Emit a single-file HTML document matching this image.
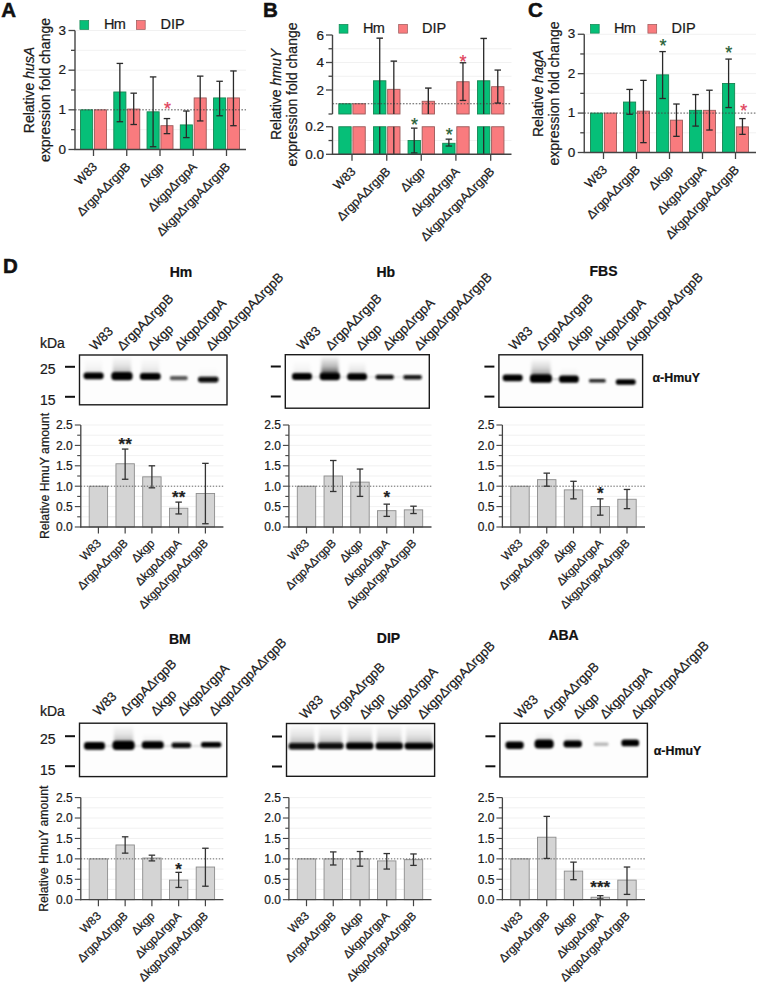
<!DOCTYPE html>
<html><head><meta charset="utf-8"><style>
html,body{margin:0;padding:0;background:#fff;width:760px;height:986px;overflow:hidden}
svg{display:block;font-family:"Liberation Sans", sans-serif}
text{stroke:#1a1a1a;stroke-width:0.22px}
</style></head><body>
<svg width="760" height="986" viewBox="0 0 760 986" xmlns="http://www.w3.org/2000/svg">
<defs>
<filter id="b1" x="-30%" y="-100%" width="160%" height="300%"><feGaussianBlur stdDeviation="0.8"/></filter>
<filter id="bl2" x="-30%" y="-30%" width="160%" height="160%"><feGaussianBlur stdDeviation="1.6"/></filter>
<linearGradient id="g6" x1="0" y1="0" x2="0" y2="1"><stop offset="0" stop-color="#000" stop-opacity="0"/><stop offset="0.55" stop-color="#000" stop-opacity="0.021"/><stop offset="1" stop-color="#000" stop-opacity="0.060"/></linearGradient>
<linearGradient id="g10" x1="0" y1="0" x2="0" y2="1"><stop offset="0" stop-color="#000" stop-opacity="0"/><stop offset="0.55" stop-color="#000" stop-opacity="0.035"/><stop offset="1" stop-color="#000" stop-opacity="0.100"/></linearGradient>
<linearGradient id="g15" x1="0" y1="0" x2="0" y2="1"><stop offset="0" stop-color="#000" stop-opacity="0"/><stop offset="0.55" stop-color="#000" stop-opacity="0.052"/><stop offset="1" stop-color="#000" stop-opacity="0.150"/></linearGradient>
<linearGradient id="g20" x1="0" y1="0" x2="0" y2="1"><stop offset="0" stop-color="#000" stop-opacity="0"/><stop offset="0.55" stop-color="#000" stop-opacity="0.070"/><stop offset="1" stop-color="#000" stop-opacity="0.200"/></linearGradient>
<linearGradient id="g30" x1="0" y1="0" x2="0" y2="1"><stop offset="0" stop-color="#000" stop-opacity="0"/><stop offset="0.55" stop-color="#000" stop-opacity="0.105"/><stop offset="1" stop-color="#000" stop-opacity="0.300"/></linearGradient>
<linearGradient id="g45" x1="0" y1="0" x2="0" y2="1"><stop offset="0" stop-color="#000" stop-opacity="0"/><stop offset="0.55" stop-color="#000" stop-opacity="0.158"/><stop offset="1" stop-color="#000" stop-opacity="0.450"/></linearGradient>
<linearGradient id="g60" x1="0" y1="0" x2="0" y2="1"><stop offset="0" stop-color="#000" stop-opacity="0"/><stop offset="0.55" stop-color="#000" stop-opacity="0.210"/><stop offset="1" stop-color="#000" stop-opacity="0.600"/></linearGradient>
<linearGradient id="g75" x1="0" y1="0" x2="0" y2="1"><stop offset="0" stop-color="#000" stop-opacity="0"/><stop offset="0.55" stop-color="#000" stop-opacity="0.262"/><stop offset="1" stop-color="#000" stop-opacity="0.750"/></linearGradient>
<linearGradient id="sm1" x1="0" y1="0" x2="0" y2="1"><stop offset="0" stop-color="#f4f4f4"/><stop offset="0.6" stop-color="#d6d6d6"/><stop offset="1" stop-color="#8a8a8a"/></linearGradient>
<linearGradient id="sm2" x1="0" y1="0" x2="0" y2="1"><stop offset="0" stop-color="#fafafa"/><stop offset="0.7" stop-color="#eeeeee"/><stop offset="1" stop-color="#c8c8c8"/></linearGradient>
<linearGradient id="sm3" x1="0" y1="0" x2="0" y2="1"><stop offset="0" stop-color="#f0f0f0"/><stop offset="0.6" stop-color="#e4e4e4"/><stop offset="1" stop-color="#bdbdbd"/></linearGradient>
</defs>
<rect width="760" height="986" fill="#fff"/>
<line x1="76" y1="129.67" x2="246" y2="129.67" stroke="#eeeeee" stroke-width="0.8"/>
<line x1="76" y1="90" x2="246" y2="90" stroke="#eeeeee" stroke-width="0.8"/>
<line x1="76" y1="70.17" x2="246" y2="70.17" stroke="#eeeeee" stroke-width="0.8"/>
<line x1="76" y1="50.33" x2="246" y2="50.33" stroke="#eeeeee" stroke-width="0.8"/>
<line x1="76" y1="30.5" x2="246" y2="30.5" stroke="#eeeeee" stroke-width="0.8"/>
<rect x="80.55" y="109.83" width="12.1" height="39.67" fill="#06bf78" stroke="#168652" stroke-width="0.9"/>
<rect x="94.4" y="109.83" width="12.1" height="39.67" fill="#f97b7e" stroke="#9a5a5a" stroke-width="0.9"/>
<rect x="113.8" y="91.98" width="12.1" height="57.52" fill="#06bf78" stroke="#168652" stroke-width="0.9"/>
<rect x="127.65" y="109.04" width="12.1" height="40.46" fill="#f97b7e" stroke="#9a5a5a" stroke-width="0.9"/>
<rect x="147.05" y="111.82" width="12.1" height="37.68" fill="#06bf78" stroke="#168652" stroke-width="0.9"/>
<rect x="160.9" y="125.7" width="12.1" height="23.8" fill="#f97b7e" stroke="#9a5a5a" stroke-width="0.9"/>
<rect x="180.3" y="124.91" width="12.1" height="24.59" fill="#06bf78" stroke="#168652" stroke-width="0.9"/>
<rect x="194.15" y="97.93" width="12.1" height="51.57" fill="#f97b7e" stroke="#9a5a5a" stroke-width="0.9"/>
<rect x="213.55" y="97.93" width="12.1" height="51.57" fill="#06bf78" stroke="#168652" stroke-width="0.9"/>
<rect x="227.4" y="97.93" width="12.1" height="51.57" fill="#f97b7e" stroke="#9a5a5a" stroke-width="0.9"/>
<line x1="75" y1="109.83" x2="246" y2="109.83" stroke="#444" stroke-width="0.9" stroke-dasharray="1.6 1.6"/>
<line x1="119.85" y1="63.42" x2="119.85" y2="121.73" stroke="#2a2a2a" stroke-width="1.3"/>
<line x1="116.6" y1="63.42" x2="123.1" y2="63.42" stroke="#2a2a2a" stroke-width="1.3"/>
<line x1="116.6" y1="121.73" x2="123.1" y2="121.73" stroke="#2a2a2a" stroke-width="1.3"/>
<line x1="133.7" y1="93.17" x2="133.7" y2="124.51" stroke="#2a2a2a" stroke-width="1.3"/>
<line x1="130.45" y1="93.17" x2="136.95" y2="93.17" stroke="#2a2a2a" stroke-width="1.3"/>
<line x1="130.45" y1="124.51" x2="136.95" y2="124.51" stroke="#2a2a2a" stroke-width="1.3"/>
<line x1="153.1" y1="76.91" x2="153.1" y2="146.72" stroke="#2a2a2a" stroke-width="1.3"/>
<line x1="149.85" y1="76.91" x2="156.35" y2="76.91" stroke="#2a2a2a" stroke-width="1.3"/>
<line x1="149.85" y1="146.72" x2="156.35" y2="146.72" stroke="#2a2a2a" stroke-width="1.3"/>
<line x1="166.95" y1="118.56" x2="166.95" y2="133.63" stroke="#2a2a2a" stroke-width="1.3"/>
<line x1="163.7" y1="118.56" x2="170.2" y2="118.56" stroke="#2a2a2a" stroke-width="1.3"/>
<line x1="163.7" y1="133.63" x2="170.2" y2="133.63" stroke="#2a2a2a" stroke-width="1.3"/>
<line x1="186.35" y1="111.02" x2="186.35" y2="137.6" stroke="#2a2a2a" stroke-width="1.3"/>
<line x1="183.1" y1="111.02" x2="189.6" y2="111.02" stroke="#2a2a2a" stroke-width="1.3"/>
<line x1="183.1" y1="137.6" x2="189.6" y2="137.6" stroke="#2a2a2a" stroke-width="1.3"/>
<line x1="200.2" y1="76.12" x2="200.2" y2="120.94" stroke="#2a2a2a" stroke-width="1.3"/>
<line x1="196.95" y1="76.12" x2="203.45" y2="76.12" stroke="#2a2a2a" stroke-width="1.3"/>
<line x1="196.95" y1="120.94" x2="203.45" y2="120.94" stroke="#2a2a2a" stroke-width="1.3"/>
<line x1="219.6" y1="81.27" x2="219.6" y2="115.78" stroke="#2a2a2a" stroke-width="1.3"/>
<line x1="216.35" y1="81.27" x2="222.85" y2="81.27" stroke="#2a2a2a" stroke-width="1.3"/>
<line x1="216.35" y1="115.78" x2="222.85" y2="115.78" stroke="#2a2a2a" stroke-width="1.3"/>
<line x1="233.45" y1="70.96" x2="233.45" y2="125.7" stroke="#2a2a2a" stroke-width="1.3"/>
<line x1="230.2" y1="70.96" x2="236.7" y2="70.96" stroke="#2a2a2a" stroke-width="1.3"/>
<line x1="230.2" y1="125.7" x2="236.7" y2="125.7" stroke="#2a2a2a" stroke-width="1.3"/>
<line x1="75" y1="30.5" x2="75" y2="150.1" stroke="#444444" stroke-width="1.4"/>
<line x1="74.4" y1="149.5" x2="246" y2="149.5" stroke="#444444" stroke-width="1.4"/>
<line x1="68.5" y1="149.5" x2="75" y2="149.5" stroke="#444444" stroke-width="1.3"/>
<text x="66" y="153.6" font-size="13.5" text-anchor="end" fill="#1a1a1a" style="stroke:#1a1a1a">0</text>
<line x1="71" y1="129.67" x2="75" y2="129.67" stroke="#444444" stroke-width="1.3"/>
<line x1="68.5" y1="109.83" x2="75" y2="109.83" stroke="#444444" stroke-width="1.3"/>
<text x="66" y="113.93" font-size="13.5" text-anchor="end" fill="#1a1a1a" style="stroke:#1a1a1a">1</text>
<line x1="71" y1="90" x2="75" y2="90" stroke="#444444" stroke-width="1.3"/>
<line x1="68.5" y1="70.17" x2="75" y2="70.17" stroke="#444444" stroke-width="1.3"/>
<text x="66" y="74.27" font-size="13.5" text-anchor="end" fill="#1a1a1a" style="stroke:#1a1a1a">2</text>
<line x1="71" y1="50.33" x2="75" y2="50.33" stroke="#444444" stroke-width="1.3"/>
<line x1="68.5" y1="30.5" x2="75" y2="30.5" stroke="#444444" stroke-width="1.3"/>
<text x="66" y="34.6" font-size="13.5" text-anchor="end" fill="#1a1a1a" style="stroke:#1a1a1a">3</text>
<line x1="93.5" y1="149.5" x2="93.5" y2="156" stroke="#444444" stroke-width="1.3"/>
<line x1="126.75" y1="149.5" x2="126.75" y2="156" stroke="#444444" stroke-width="1.3"/>
<line x1="160" y1="149.5" x2="160" y2="156" stroke="#444444" stroke-width="1.3"/>
<line x1="193.25" y1="149.5" x2="193.25" y2="156" stroke="#444444" stroke-width="1.3"/>
<line x1="226.5" y1="149.5" x2="226.5" y2="156" stroke="#444444" stroke-width="1.3"/>
<text x="167.5" y="115" font-size="18" text-anchor="middle" fill="#e0405a" style="stroke:#e0405a">*</text>
<rect x="79.9" y="20.6" width="8.8" height="8.8" fill="#06bf78" stroke="#168652" stroke-width="0.7"/>
<text x="104" y="29.3" font-size="14.5" text-anchor="start" fill="#1a1a1a" style="stroke:#1a1a1a" letter-spacing="-0.7">Hm</text>
<rect x="136.4" y="20.6" width="8.8" height="8.8" fill="#f97b7e" stroke="#9a5a5a" stroke-width="0.7"/>
<text x="160.5" y="29.3" font-size="14.5" text-anchor="start" fill="#1a1a1a" style="stroke:#1a1a1a">DIP</text>
<text x="34" y="90" font-size="14" text-anchor="middle" fill="#1a1a1a" transform="rotate(-90 34 90)">Relative <tspan font-style="italic">husA</tspan></text>
<text x="50" y="90" font-size="14" text-anchor="middle" fill="#1a1a1a" transform="rotate(-90 50 90)" style="stroke:#1a1a1a">expression fold change</text>
<text x="98" y="167.5" font-size="12.5" text-anchor="end" fill="#1a1a1a" transform="rotate(-45 98 167.5)" style="stroke:#1a1a1a">W83</text>
<text x="131.25" y="167.5" font-size="12.5" text-anchor="end" fill="#1a1a1a" transform="rotate(-45 131.25 167.5)" style="stroke:#1a1a1a"><tspan font-style="normal">&#916;</tspan>rgpA<tspan font-style="normal">&#916;</tspan>rgpB</text>
<text x="164.5" y="167.5" font-size="12.5" text-anchor="end" fill="#1a1a1a" transform="rotate(-45 164.5 167.5)" style="stroke:#1a1a1a"><tspan font-style="normal">&#916;</tspan>kgp</text>
<text x="197.75" y="167.5" font-size="12.5" text-anchor="end" fill="#1a1a1a" transform="rotate(-45 197.75 167.5)" style="stroke:#1a1a1a"><tspan font-style="normal">&#916;</tspan>kgp<tspan font-style="normal">&#916;</tspan>rgpA</text>
<text x="231" y="167.5" font-size="12.5" text-anchor="end" fill="#1a1a1a" transform="rotate(-45 231 167.5)" style="stroke:#1a1a1a"><tspan font-style="normal">&#916;</tspan>kgp<tspan font-style="normal">&#916;</tspan>rgpA<tspan font-style="normal">&#916;</tspan>rgpB</text>
<line x1="585.25" y1="132.79" x2="756" y2="132.79" stroke="#eeeeee" stroke-width="0.8"/>
<line x1="585.25" y1="93.38" x2="756" y2="93.38" stroke="#eeeeee" stroke-width="0.8"/>
<line x1="585.25" y1="73.67" x2="756" y2="73.67" stroke="#eeeeee" stroke-width="0.8"/>
<line x1="585.25" y1="53.96" x2="756" y2="53.96" stroke="#eeeeee" stroke-width="0.8"/>
<line x1="585.25" y1="34.25" x2="756" y2="34.25" stroke="#eeeeee" stroke-width="0.8"/>
<rect x="590.55" y="113.08" width="12.1" height="39.42" fill="#06bf78" stroke="#168652" stroke-width="0.9"/>
<rect x="604.4" y="113.08" width="12.1" height="39.42" fill="#f97b7e" stroke="#9a5a5a" stroke-width="0.9"/>
<rect x="623.55" y="102.05" width="12.1" height="50.45" fill="#06bf78" stroke="#168652" stroke-width="0.9"/>
<rect x="637.4" y="111.11" width="12.1" height="41.39" fill="#f97b7e" stroke="#9a5a5a" stroke-width="0.9"/>
<rect x="656.55" y="74.85" width="12.1" height="77.65" fill="#06bf78" stroke="#168652" stroke-width="0.9"/>
<rect x="670.4" y="120.18" width="12.1" height="32.32" fill="#f97b7e" stroke="#9a5a5a" stroke-width="0.9"/>
<rect x="689.55" y="110.32" width="12.1" height="42.18" fill="#06bf78" stroke="#168652" stroke-width="0.9"/>
<rect x="703.4" y="110.32" width="12.1" height="42.18" fill="#f97b7e" stroke="#9a5a5a" stroke-width="0.9"/>
<rect x="722.55" y="83.52" width="12.1" height="68.98" fill="#06bf78" stroke="#168652" stroke-width="0.9"/>
<rect x="736.4" y="126.88" width="12.1" height="25.62" fill="#f97b7e" stroke="#9a5a5a" stroke-width="0.9"/>
<line x1="584.25" y1="113.08" x2="756" y2="113.08" stroke="#444" stroke-width="0.9" stroke-dasharray="1.6 1.6"/>
<line x1="629.6" y1="89.43" x2="629.6" y2="114.27" stroke="#2a2a2a" stroke-width="1.3"/>
<line x1="626.35" y1="89.43" x2="632.85" y2="89.43" stroke="#2a2a2a" stroke-width="1.3"/>
<line x1="626.35" y1="114.27" x2="632.85" y2="114.27" stroke="#2a2a2a" stroke-width="1.3"/>
<line x1="643.45" y1="80.37" x2="643.45" y2="142.65" stroke="#2a2a2a" stroke-width="1.3"/>
<line x1="640.2" y1="80.37" x2="646.7" y2="80.37" stroke="#2a2a2a" stroke-width="1.3"/>
<line x1="640.2" y1="142.65" x2="646.7" y2="142.65" stroke="#2a2a2a" stroke-width="1.3"/>
<line x1="662.6" y1="51.59" x2="662.6" y2="98.5" stroke="#2a2a2a" stroke-width="1.3"/>
<line x1="659.35" y1="51.59" x2="665.85" y2="51.59" stroke="#2a2a2a" stroke-width="1.3"/>
<line x1="659.35" y1="98.5" x2="665.85" y2="98.5" stroke="#2a2a2a" stroke-width="1.3"/>
<line x1="676.45" y1="104.02" x2="676.45" y2="136.34" stroke="#2a2a2a" stroke-width="1.3"/>
<line x1="673.2" y1="104.02" x2="679.7" y2="104.02" stroke="#2a2a2a" stroke-width="1.3"/>
<line x1="673.2" y1="136.34" x2="679.7" y2="136.34" stroke="#2a2a2a" stroke-width="1.3"/>
<line x1="695.6" y1="94.56" x2="695.6" y2="126.09" stroke="#2a2a2a" stroke-width="1.3"/>
<line x1="692.35" y1="94.56" x2="698.85" y2="94.56" stroke="#2a2a2a" stroke-width="1.3"/>
<line x1="692.35" y1="126.09" x2="698.85" y2="126.09" stroke="#2a2a2a" stroke-width="1.3"/>
<line x1="709.45" y1="90.22" x2="709.45" y2="130.03" stroke="#2a2a2a" stroke-width="1.3"/>
<line x1="706.2" y1="90.22" x2="712.7" y2="90.22" stroke="#2a2a2a" stroke-width="1.3"/>
<line x1="706.2" y1="130.03" x2="712.7" y2="130.03" stroke="#2a2a2a" stroke-width="1.3"/>
<line x1="728.6" y1="59.08" x2="728.6" y2="107.56" stroke="#2a2a2a" stroke-width="1.3"/>
<line x1="725.35" y1="59.08" x2="731.85" y2="59.08" stroke="#2a2a2a" stroke-width="1.3"/>
<line x1="725.35" y1="107.56" x2="731.85" y2="107.56" stroke="#2a2a2a" stroke-width="1.3"/>
<line x1="742.45" y1="118.6" x2="742.45" y2="134.37" stroke="#2a2a2a" stroke-width="1.3"/>
<line x1="739.2" y1="118.6" x2="745.7" y2="118.6" stroke="#2a2a2a" stroke-width="1.3"/>
<line x1="739.2" y1="134.37" x2="745.7" y2="134.37" stroke="#2a2a2a" stroke-width="1.3"/>
<line x1="584.25" y1="34.25" x2="584.25" y2="153.1" stroke="#444444" stroke-width="1.4"/>
<line x1="583.65" y1="152.5" x2="756" y2="152.5" stroke="#444444" stroke-width="1.4"/>
<line x1="577.75" y1="152.5" x2="584.25" y2="152.5" stroke="#444444" stroke-width="1.3"/>
<text x="575.25" y="156.6" font-size="13.5" text-anchor="end" fill="#1a1a1a" style="stroke:#1a1a1a">0</text>
<line x1="580.25" y1="132.79" x2="584.25" y2="132.79" stroke="#444444" stroke-width="1.3"/>
<line x1="577.75" y1="113.08" x2="584.25" y2="113.08" stroke="#444444" stroke-width="1.3"/>
<text x="575.25" y="117.18" font-size="13.5" text-anchor="end" fill="#1a1a1a" style="stroke:#1a1a1a">1</text>
<line x1="580.25" y1="93.38" x2="584.25" y2="93.38" stroke="#444444" stroke-width="1.3"/>
<line x1="577.75" y1="73.67" x2="584.25" y2="73.67" stroke="#444444" stroke-width="1.3"/>
<text x="575.25" y="77.77" font-size="13.5" text-anchor="end" fill="#1a1a1a" style="stroke:#1a1a1a">2</text>
<line x1="580.25" y1="53.96" x2="584.25" y2="53.96" stroke="#444444" stroke-width="1.3"/>
<line x1="577.75" y1="34.25" x2="584.25" y2="34.25" stroke="#444444" stroke-width="1.3"/>
<text x="575.25" y="38.35" font-size="13.5" text-anchor="end" fill="#1a1a1a" style="stroke:#1a1a1a">3</text>
<line x1="603.5" y1="152.5" x2="603.5" y2="159" stroke="#444444" stroke-width="1.3"/>
<line x1="636.5" y1="152.5" x2="636.5" y2="159" stroke="#444444" stroke-width="1.3"/>
<line x1="669.5" y1="152.5" x2="669.5" y2="159" stroke="#444444" stroke-width="1.3"/>
<line x1="702.5" y1="152.5" x2="702.5" y2="159" stroke="#444444" stroke-width="1.3"/>
<line x1="735.5" y1="152.5" x2="735.5" y2="159" stroke="#444444" stroke-width="1.3"/>
<text x="663" y="52" font-size="18" text-anchor="middle" fill="#1e5c32" style="stroke:#1e5c32">*</text>
<text x="728.75" y="58.5" font-size="18" text-anchor="middle" fill="#1e5c32" style="stroke:#1e5c32">*</text>
<text x="743.75" y="117" font-size="18" text-anchor="middle" fill="#e0405a" style="stroke:#e0405a">*</text>
<rect x="590.4" y="24.35" width="8.8" height="8.8" fill="#06bf78" stroke="#168652" stroke-width="0.7"/>
<text x="614" y="33.05" font-size="14.5" text-anchor="start" fill="#1a1a1a" style="stroke:#1a1a1a" letter-spacing="-0.7">Hm</text>
<rect x="647.9" y="24.35" width="8.8" height="8.8" fill="#f97b7e" stroke="#9a5a5a" stroke-width="0.7"/>
<text x="671.5" y="33.05" font-size="14.5" text-anchor="start" fill="#1a1a1a" style="stroke:#1a1a1a">DIP</text>
<text x="543" y="93.5" font-size="14" text-anchor="middle" fill="#1a1a1a" transform="rotate(-90 543 93.5)">Relative <tspan font-style="italic">hagA</tspan></text>
<text x="559" y="93.5" font-size="14" text-anchor="middle" fill="#1a1a1a" transform="rotate(-90 559 93.5)" style="stroke:#1a1a1a">expression fold change</text>
<text x="608" y="170.5" font-size="12.5" text-anchor="end" fill="#1a1a1a" transform="rotate(-45 608 170.5)" style="stroke:#1a1a1a">W83</text>
<text x="641" y="170.5" font-size="12.5" text-anchor="end" fill="#1a1a1a" transform="rotate(-45 641 170.5)" style="stroke:#1a1a1a"><tspan font-style="normal">&#916;</tspan>rgpA<tspan font-style="normal">&#916;</tspan>rgpB</text>
<text x="674" y="170.5" font-size="12.5" text-anchor="end" fill="#1a1a1a" transform="rotate(-45 674 170.5)" style="stroke:#1a1a1a"><tspan font-style="normal">&#916;</tspan>kgp</text>
<text x="707" y="170.5" font-size="12.5" text-anchor="end" fill="#1a1a1a" transform="rotate(-45 707 170.5)" style="stroke:#1a1a1a"><tspan font-style="normal">&#916;</tspan>kgp<tspan font-style="normal">&#916;</tspan>rgpA</text>
<text x="740" y="170.5" font-size="12.5" text-anchor="end" fill="#1a1a1a" transform="rotate(-45 740 170.5)" style="stroke:#1a1a1a"><tspan font-style="normal">&#916;</tspan>kgp<tspan font-style="normal">&#916;</tspan>rgpA<tspan font-style="normal">&#916;</tspan>rgpB</text>
<line x1="333.5" y1="48.75" x2="511.5" y2="48.75" stroke="#eeeeee" stroke-width="0.8"/>
<line x1="333.5" y1="62.5" x2="511.5" y2="62.5" stroke="#eeeeee" stroke-width="0.8"/>
<line x1="333.5" y1="76.25" x2="511.5" y2="76.25" stroke="#eeeeee" stroke-width="0.8"/>
<line x1="333.5" y1="90" x2="511.5" y2="90" stroke="#eeeeee" stroke-width="0.8"/>
<line x1="333.5" y1="140.53" x2="511.5" y2="140.53" stroke="#eeeeee" stroke-width="0.8"/>
<rect x="338.8" y="103.75" width="12.35" height="10.25" fill="#06bf78" stroke="#168652" stroke-width="0.9"/>
<rect x="338.8" y="126.75" width="12.35" height="27.55" fill="#06bf78" stroke="#168652" stroke-width="0.9"/>
<rect x="352.9" y="103.75" width="12.35" height="10.25" fill="#f97b7e" stroke="#9a5a5a" stroke-width="0.9"/>
<rect x="352.9" y="126.75" width="12.35" height="27.55" fill="#f97b7e" stroke="#9a5a5a" stroke-width="0.9"/>
<rect x="373.55" y="80.79" width="12.35" height="33.21" fill="#06bf78" stroke="#168652" stroke-width="0.9"/>
<rect x="373.55" y="126.75" width="12.35" height="27.55" fill="#06bf78" stroke="#168652" stroke-width="0.9"/>
<rect x="387.65" y="89.31" width="12.35" height="24.69" fill="#f97b7e" stroke="#9a5a5a" stroke-width="0.9"/>
<rect x="387.65" y="126.75" width="12.35" height="27.55" fill="#f97b7e" stroke="#9a5a5a" stroke-width="0.9"/>
<rect x="408.05" y="140.53" width="12.35" height="13.78" fill="#06bf78" stroke="#168652" stroke-width="0.9"/>
<rect x="422.15" y="101.28" width="12.35" height="12.72" fill="#f97b7e" stroke="#9a5a5a" stroke-width="0.9"/>
<rect x="422.15" y="126.75" width="12.35" height="27.55" fill="#f97b7e" stroke="#9a5a5a" stroke-width="0.9"/>
<rect x="442.7" y="143.28" width="12.35" height="11.02" fill="#06bf78" stroke="#168652" stroke-width="0.9"/>
<rect x="456.8" y="81.75" width="12.35" height="32.25" fill="#f97b7e" stroke="#9a5a5a" stroke-width="0.9"/>
<rect x="456.8" y="126.75" width="12.35" height="27.55" fill="#f97b7e" stroke="#9a5a5a" stroke-width="0.9"/>
<rect x="477.5" y="80.79" width="12.35" height="33.21" fill="#06bf78" stroke="#168652" stroke-width="0.9"/>
<rect x="477.5" y="126.75" width="12.35" height="27.55" fill="#06bf78" stroke="#168652" stroke-width="0.9"/>
<rect x="491.6" y="86.7" width="12.35" height="27.3" fill="#f97b7e" stroke="#9a5a5a" stroke-width="0.9"/>
<rect x="491.6" y="126.75" width="12.35" height="27.55" fill="#f97b7e" stroke="#9a5a5a" stroke-width="0.9"/>
<line x1="332.5" y1="103.75" x2="511.5" y2="103.75" stroke="#444" stroke-width="0.9" stroke-dasharray="1.6 1.6"/>
<line x1="379.73" y1="38.16" x2="379.73" y2="114" stroke="#2a2a2a" stroke-width="1.3"/>
<line x1="376.48" y1="38.16" x2="382.98" y2="38.16" stroke="#2a2a2a" stroke-width="1.4"/>
<line x1="379.73" y1="126.75" x2="379.73" y2="154.3" stroke="#2a2a2a" stroke-width="1.3"/>
<line x1="393.82" y1="61.13" x2="393.82" y2="114" stroke="#2a2a2a" stroke-width="1.3"/>
<line x1="390.57" y1="61.13" x2="397.07" y2="61.13" stroke="#2a2a2a" stroke-width="1.4"/>
<line x1="393.82" y1="126.75" x2="393.82" y2="154.3" stroke="#2a2a2a" stroke-width="1.3"/>
<line x1="414.23" y1="128.13" x2="414.23" y2="152.92" stroke="#2a2a2a" stroke-width="1.3"/>
<line x1="410.98" y1="128.13" x2="417.48" y2="128.13" stroke="#2a2a2a" stroke-width="1.3"/>
<line x1="410.98" y1="152.92" x2="417.48" y2="152.92" stroke="#2a2a2a" stroke-width="1.3"/>
<line x1="428.32" y1="88.08" x2="428.32" y2="114" stroke="#2a2a2a" stroke-width="1.4"/>
<line x1="425.07" y1="88.08" x2="431.57" y2="88.08" stroke="#2a2a2a" stroke-width="1.4"/>
<line x1="448.88" y1="139.15" x2="448.88" y2="146.03" stroke="#2a2a2a" stroke-width="1.3"/>
<line x1="445.62" y1="139.15" x2="452.12" y2="139.15" stroke="#2a2a2a" stroke-width="1.3"/>
<line x1="445.62" y1="146.03" x2="452.12" y2="146.03" stroke="#2a2a2a" stroke-width="1.3"/>
<line x1="462.97" y1="62.77" x2="462.97" y2="100.45" stroke="#2a2a2a" stroke-width="1.3"/>
<line x1="459.72" y1="62.77" x2="466.22" y2="62.77" stroke="#2a2a2a" stroke-width="1.3"/>
<line x1="459.72" y1="100.45" x2="466.22" y2="100.45" stroke="#2a2a2a" stroke-width="1.3"/>
<line x1="483.68" y1="38.44" x2="483.68" y2="114" stroke="#2a2a2a" stroke-width="1.3"/>
<line x1="480.43" y1="38.44" x2="486.93" y2="38.44" stroke="#2a2a2a" stroke-width="1.4"/>
<line x1="483.68" y1="126.75" x2="483.68" y2="154.3" stroke="#2a2a2a" stroke-width="1.3"/>
<line x1="497.77" y1="70.06" x2="497.77" y2="103.06" stroke="#2a2a2a" stroke-width="1.3"/>
<line x1="494.52" y1="70.06" x2="501.02" y2="70.06" stroke="#2a2a2a" stroke-width="1.3"/>
<line x1="494.52" y1="103.06" x2="501.02" y2="103.06" stroke="#2a2a2a" stroke-width="1.3"/>
<line x1="332.5" y1="35" x2="332.5" y2="114" stroke="#444444" stroke-width="1.4"/>
<line x1="328.5" y1="114" x2="332.5" y2="114" stroke="#444444" stroke-width="1.3"/>
<line x1="332.5" y1="126.75" x2="332.5" y2="154.9" stroke="#444444" stroke-width="1.4"/>
<line x1="331.9" y1="154.3" x2="511.5" y2="154.3" stroke="#444444" stroke-width="1.4"/>
<line x1="326" y1="35" x2="332.5" y2="35" stroke="#444444" stroke-width="1.3"/>
<text x="324" y="39.7" font-size="13.5" text-anchor="end" fill="#1a1a1a" style="stroke:#1a1a1a">6</text>
<line x1="326" y1="62.5" x2="332.5" y2="62.5" stroke="#444444" stroke-width="1.3"/>
<text x="324" y="67.2" font-size="13.5" text-anchor="end" fill="#1a1a1a" style="stroke:#1a1a1a">4</text>
<line x1="326" y1="90" x2="332.5" y2="90" stroke="#444444" stroke-width="1.3"/>
<text x="324" y="94.7" font-size="13.5" text-anchor="end" fill="#1a1a1a" style="stroke:#1a1a1a">2</text>
<line x1="328.5" y1="48.75" x2="332.5" y2="48.75" stroke="#444444" stroke-width="1.3"/>
<line x1="328.5" y1="76.25" x2="332.5" y2="76.25" stroke="#444444" stroke-width="1.3"/>
<line x1="326" y1="126.75" x2="332.5" y2="126.75" stroke="#444444" stroke-width="1.3"/>
<text x="324" y="131.45" font-size="13.5" text-anchor="end" fill="#1a1a1a" style="stroke:#1a1a1a">0.2</text>
<line x1="326" y1="154.3" x2="332.5" y2="154.3" stroke="#444444" stroke-width="1.3"/>
<text x="324" y="159" font-size="13.5" text-anchor="end" fill="#1a1a1a" style="stroke:#1a1a1a">0.0</text>
<line x1="328.5" y1="140.53" x2="332.5" y2="140.53" stroke="#444444" stroke-width="1.3"/>
<line x1="352" y1="154.3" x2="352" y2="160.8" stroke="#444444" stroke-width="1.3"/>
<line x1="386.75" y1="154.3" x2="386.75" y2="160.8" stroke="#444444" stroke-width="1.3"/>
<line x1="421.25" y1="154.3" x2="421.25" y2="160.8" stroke="#444444" stroke-width="1.3"/>
<line x1="455.9" y1="154.3" x2="455.9" y2="160.8" stroke="#444444" stroke-width="1.3"/>
<line x1="490.7" y1="154.3" x2="490.7" y2="160.8" stroke="#444444" stroke-width="1.3"/>
<text x="414.5" y="130.5" font-size="18" text-anchor="middle" fill="#1e5c32" style="stroke:#1e5c32">*</text>
<text x="449.25" y="140.5" font-size="18" text-anchor="middle" fill="#1e5c32" style="stroke:#1e5c32">*</text>
<text x="463" y="67.5" font-size="18" text-anchor="middle" fill="#e0405a" style="stroke:#e0405a">*</text>
<rect x="339.15" y="24.35" width="8.8" height="8.8" fill="#06bf78" stroke="#168652" stroke-width="0.7"/>
<text x="363" y="33.05" font-size="14.5" text-anchor="start" fill="#1a1a1a" style="stroke:#1a1a1a" letter-spacing="-0.7">Hm</text>
<rect x="398.65" y="24.35" width="8.8" height="8.8" fill="#f97b7e" stroke="#9a5a5a" stroke-width="0.7"/>
<text x="422" y="33.05" font-size="14.5" text-anchor="start" fill="#1a1a1a" style="stroke:#1a1a1a">DIP</text>
<text x="281" y="94.5" font-size="14" text-anchor="middle" fill="#1a1a1a" transform="rotate(-90 281 94.5)">Relative <tspan font-style="italic">hmuY</tspan></text>
<text x="297" y="94.5" font-size="14" text-anchor="middle" fill="#1a1a1a" transform="rotate(-90 297 94.5)" style="stroke:#1a1a1a">expression fold change</text>
<text x="356.5" y="172.3" font-size="12.5" text-anchor="end" fill="#1a1a1a" transform="rotate(-45 356.5 172.3)" style="stroke:#1a1a1a">W83</text>
<text x="391.25" y="172.3" font-size="12.5" text-anchor="end" fill="#1a1a1a" transform="rotate(-45 391.25 172.3)" style="stroke:#1a1a1a"><tspan font-style="normal">&#916;</tspan>rgpA<tspan font-style="normal">&#916;</tspan>rgpB</text>
<text x="425.75" y="172.3" font-size="12.5" text-anchor="end" fill="#1a1a1a" transform="rotate(-45 425.75 172.3)" style="stroke:#1a1a1a"><tspan font-style="normal">&#916;</tspan>kgp</text>
<text x="460.4" y="172.3" font-size="12.5" text-anchor="end" fill="#1a1a1a" transform="rotate(-45 460.4 172.3)" style="stroke:#1a1a1a"><tspan font-style="normal">&#916;</tspan>kgp<tspan font-style="normal">&#916;</tspan>rgpA</text>
<text x="495.2" y="172.3" font-size="12.5" text-anchor="end" fill="#1a1a1a" transform="rotate(-45 495.2 172.3)" style="stroke:#1a1a1a"><tspan font-style="normal">&#916;</tspan>kgp<tspan font-style="normal">&#916;</tspan>rgpA<tspan font-style="normal">&#916;</tspan>rgpB</text>
<text x="1.3" y="17.4" font-size="20.5" text-anchor="start" font-weight="bold" fill="#111" style="stroke:#111;stroke-width:0.5px">A</text>
<text x="263" y="17.4" font-size="20.5" text-anchor="start" font-weight="bold" fill="#111" style="stroke:#111;stroke-width:0.5px">B</text>
<text x="528" y="17.4" font-size="20.5" text-anchor="start" font-weight="bold" fill="#111" style="stroke:#111;stroke-width:0.5px">C</text>
<text x="2.9" y="273.4" font-size="20.5" text-anchor="start" font-weight="bold" fill="#111" style="stroke:#111;stroke-width:0.5px">D</text>
<text x="169.7" y="276.6" font-size="14" text-anchor="start" font-weight="bold" fill="#111" style="stroke:#111">Hm</text>
<rect x="79.5" y="355" width="147.5" height="49.8" fill="#fdfdfd"/>
<rect x="85.1" y="358.6" width="17" height="16" fill="url(#g10)" filter="url(#bl2)"/>
<rect x="83.6" y="372.4" width="20" height="6.8" rx="2.88" fill="#000" filter="url(#b1)"/>
<rect x="112.8" y="356" width="18.3" height="18.2" fill="url(#g30)" filter="url(#bl2)"/>
<rect x="111.3" y="372" width="21.3" height="8.2" rx="3.51" fill="#000" filter="url(#b1)"/>
<rect x="141.4" y="357.2" width="17.8" height="18" fill="url(#g15)" filter="url(#bl2)"/>
<rect x="139.9" y="373" width="20.8" height="7" rx="2.97" fill="#000" filter="url(#b1)"/>
<rect x="169.9" y="375.9" width="17.8" height="4.3" rx="1.75" fill="#585858" filter="url(#b1)"/>
<rect x="199.5" y="366.9" width="17.5" height="12" fill="url(#g6)" filter="url(#bl2)"/>
<rect x="198" y="376.7" width="20.5" height="5.7" rx="2.39" fill="#080808" filter="url(#b1)"/>
<rect x="79.5" y="355" width="147.5" height="49.8" fill="none" stroke="#1a1a1a" stroke-width="1.4"/>
<line x1="65" y1="366.8" x2="75" y2="366.8" stroke="#111" stroke-width="2"/>
<line x1="65" y1="396.8" x2="75" y2="396.8" stroke="#111" stroke-width="2"/>
<text x="40" y="347.8" font-size="14" text-anchor="start" fill="#1a1a1a" style="stroke:#1a1a1a">kDa</text>
<text x="40" y="374.2" font-size="14" text-anchor="start" fill="#1a1a1a" style="stroke:#1a1a1a">25</text>
<text x="40" y="405.4" font-size="14" text-anchor="start" fill="#1a1a1a" style="stroke:#1a1a1a">15</text>
<text x="94.9" y="351.2" font-size="13.2" text-anchor="start" fill="#1a1a1a" transform="rotate(-45 94.9 351.2)" style="stroke:#1a1a1a">W83</text>
<text x="122.4" y="351.2" font-size="13.2" text-anchor="start" fill="#1a1a1a" transform="rotate(-45 122.4 351.2)" style="stroke:#1a1a1a"><tspan font-style="normal">&#916;</tspan>rgpA<tspan font-style="normal">&#916;</tspan>rgpB</text>
<text x="152.9" y="351.2" font-size="13.2" text-anchor="start" fill="#1a1a1a" transform="rotate(-45 152.9 351.2)" style="stroke:#1a1a1a"><tspan font-style="normal">&#916;</tspan>kgp</text>
<text x="179.9" y="351.2" font-size="13.2" text-anchor="start" fill="#1a1a1a" transform="rotate(-45 179.9 351.2)" style="stroke:#1a1a1a"><tspan font-style="normal">&#916;</tspan>kgp<tspan font-style="normal">&#916;</tspan>rgpA</text>
<text x="211.2" y="351.2" font-size="13.2" text-anchor="start" fill="#1a1a1a" transform="rotate(-45 211.2 351.2)" style="stroke:#1a1a1a"><tspan font-style="normal">&#916;</tspan>kgp<tspan font-style="normal">&#916;</tspan>rgpA<tspan font-style="normal">&#916;</tspan>rgpB</text>
<line x1="81.8" y1="516.8" x2="223.4" y2="516.8" stroke="#eeeeee" stroke-width="0.8"/>
<line x1="81.8" y1="506.6" x2="223.4" y2="506.6" stroke="#eeeeee" stroke-width="0.8"/>
<line x1="81.8" y1="496.4" x2="223.4" y2="496.4" stroke="#eeeeee" stroke-width="0.8"/>
<line x1="81.8" y1="476" x2="223.4" y2="476" stroke="#eeeeee" stroke-width="0.8"/>
<line x1="81.8" y1="465.8" x2="223.4" y2="465.8" stroke="#eeeeee" stroke-width="0.8"/>
<line x1="81.8" y1="455.6" x2="223.4" y2="455.6" stroke="#eeeeee" stroke-width="0.8"/>
<line x1="81.8" y1="445.4" x2="223.4" y2="445.4" stroke="#eeeeee" stroke-width="0.8"/>
<line x1="81.8" y1="435.2" x2="223.4" y2="435.2" stroke="#eeeeee" stroke-width="0.8"/>
<line x1="81.8" y1="425" x2="223.4" y2="425" stroke="#eeeeee" stroke-width="0.8"/>
<rect x="89.2" y="486.2" width="18.4" height="40.8" fill="#d4d4d4" stroke="#8c8c8c" stroke-width="0.9"/>
<rect x="115.95" y="463.76" width="18.4" height="63.24" fill="#d4d4d4" stroke="#8c8c8c" stroke-width="0.9"/>
<rect x="142.7" y="476.82" width="18.4" height="50.18" fill="#d4d4d4" stroke="#8c8c8c" stroke-width="0.9"/>
<rect x="169.45" y="508.23" width="18.4" height="18.77" fill="#d4d4d4" stroke="#8c8c8c" stroke-width="0.9"/>
<rect x="196.2" y="493.54" width="18.4" height="33.46" fill="#d4d4d4" stroke="#8c8c8c" stroke-width="0.9"/>
<line x1="80.8" y1="486.2" x2="223.4" y2="486.2" stroke="#555" stroke-width="0.9" stroke-dasharray="1.4 1.6"/>
<line x1="125.15" y1="449.07" x2="125.15" y2="479.26" stroke="#333" stroke-width="1.3"/>
<line x1="121.9" y1="449.07" x2="128.4" y2="449.07" stroke="#333" stroke-width="1.3"/>
<line x1="121.9" y1="479.26" x2="128.4" y2="479.26" stroke="#333" stroke-width="1.3"/>
<line x1="151.9" y1="465.8" x2="151.9" y2="487.83" stroke="#333" stroke-width="1.3"/>
<line x1="148.65" y1="465.8" x2="155.15" y2="465.8" stroke="#333" stroke-width="1.3"/>
<line x1="148.65" y1="487.83" x2="155.15" y2="487.83" stroke="#333" stroke-width="1.3"/>
<line x1="178.65" y1="502.11" x2="178.65" y2="513.94" stroke="#333" stroke-width="1.3"/>
<line x1="175.4" y1="502.11" x2="181.9" y2="502.11" stroke="#333" stroke-width="1.3"/>
<line x1="175.4" y1="513.94" x2="181.9" y2="513.94" stroke="#333" stroke-width="1.3"/>
<line x1="205.4" y1="463.35" x2="205.4" y2="523.74" stroke="#333" stroke-width="1.3"/>
<line x1="202.15" y1="463.35" x2="208.65" y2="463.35" stroke="#333" stroke-width="1.3"/>
<line x1="202.15" y1="523.74" x2="208.65" y2="523.74" stroke="#333" stroke-width="1.3"/>
<line x1="80.8" y1="425" x2="80.8" y2="527.6" stroke="#444444" stroke-width="1.3"/>
<line x1="80.2" y1="527" x2="223.4" y2="527" stroke="#444444" stroke-width="1.3"/>
<line x1="74.8" y1="527" x2="80.8" y2="527" stroke="#444444" stroke-width="1.1"/>
<text x="72.8" y="531.3" font-size="12" text-anchor="end" fill="#1a1a1a" style="stroke:#1a1a1a">0.0</text>
<line x1="77.2" y1="516.8" x2="80.8" y2="516.8" stroke="#444444" stroke-width="1.1"/>
<line x1="74.8" y1="506.6" x2="80.8" y2="506.6" stroke="#444444" stroke-width="1.1"/>
<text x="72.8" y="510.9" font-size="12" text-anchor="end" fill="#1a1a1a" style="stroke:#1a1a1a">0.5</text>
<line x1="77.2" y1="496.4" x2="80.8" y2="496.4" stroke="#444444" stroke-width="1.1"/>
<line x1="74.8" y1="486.2" x2="80.8" y2="486.2" stroke="#444444" stroke-width="1.1"/>
<text x="72.8" y="490.5" font-size="12" text-anchor="end" fill="#1a1a1a" style="stroke:#1a1a1a">1.0</text>
<line x1="77.2" y1="476" x2="80.8" y2="476" stroke="#444444" stroke-width="1.1"/>
<line x1="74.8" y1="465.8" x2="80.8" y2="465.8" stroke="#444444" stroke-width="1.1"/>
<text x="72.8" y="470.1" font-size="12" text-anchor="end" fill="#1a1a1a" style="stroke:#1a1a1a">1.5</text>
<line x1="77.2" y1="455.6" x2="80.8" y2="455.6" stroke="#444444" stroke-width="1.1"/>
<line x1="74.8" y1="445.4" x2="80.8" y2="445.4" stroke="#444444" stroke-width="1.1"/>
<text x="72.8" y="449.7" font-size="12" text-anchor="end" fill="#1a1a1a" style="stroke:#1a1a1a">2.0</text>
<line x1="77.2" y1="435.2" x2="80.8" y2="435.2" stroke="#444444" stroke-width="1.1"/>
<line x1="74.8" y1="425" x2="80.8" y2="425" stroke="#444444" stroke-width="1.1"/>
<text x="72.8" y="429.3" font-size="12" text-anchor="end" fill="#1a1a1a" style="stroke:#1a1a1a">2.5</text>
<line x1="98.4" y1="527" x2="98.4" y2="533.5" stroke="#444444" stroke-width="1.2"/>
<line x1="125.15" y1="527" x2="125.15" y2="533.5" stroke="#444444" stroke-width="1.2"/>
<line x1="151.9" y1="527" x2="151.9" y2="533.5" stroke="#444444" stroke-width="1.2"/>
<line x1="178.65" y1="527" x2="178.65" y2="533.5" stroke="#444444" stroke-width="1.2"/>
<line x1="205.4" y1="527" x2="205.4" y2="533.5" stroke="#444444" stroke-width="1.2"/>
<text x="125.15" y="450.12" font-size="17" text-anchor="middle" font-weight="bold" fill="#222" style="stroke:#222">**</text>
<text x="178.65" y="503.16" font-size="17" text-anchor="middle" font-weight="bold" fill="#222" style="stroke:#222">**</text>
<text x="48.5" y="476" font-size="12.3" text-anchor="middle" fill="#1a1a1a" transform="rotate(-90 48.5 476)">Relative HmuY amount</text>
<text x="101.9" y="544" font-size="11.8" text-anchor="end" fill="#1a1a1a" transform="rotate(-45 101.9 544)" style="stroke:#1a1a1a">W83</text>
<text x="128.65" y="544" font-size="11.8" text-anchor="end" fill="#1a1a1a" transform="rotate(-45 128.65 544)" style="stroke:#1a1a1a"><tspan font-style="normal">&#916;</tspan>rgpA<tspan font-style="normal">&#916;</tspan>rgpB</text>
<text x="155.4" y="544" font-size="11.8" text-anchor="end" fill="#1a1a1a" transform="rotate(-45 155.4 544)" style="stroke:#1a1a1a"><tspan font-style="normal">&#916;</tspan>kgp</text>
<text x="182.15" y="544" font-size="11.8" text-anchor="end" fill="#1a1a1a" transform="rotate(-45 182.15 544)" style="stroke:#1a1a1a"><tspan font-style="normal">&#916;</tspan>kgp<tspan font-style="normal">&#916;</tspan>rgpA</text>
<text x="208.9" y="544" font-size="11.8" text-anchor="end" fill="#1a1a1a" transform="rotate(-45 208.9 544)" style="stroke:#1a1a1a"><tspan font-style="normal">&#916;</tspan>kgp<tspan font-style="normal">&#916;</tspan>rgpA<tspan font-style="normal">&#916;</tspan>rgpB</text>
<text x="376.4" y="276.5" font-size="14" text-anchor="start" font-weight="bold" fill="#111" style="stroke:#111">Hb</text>
<rect x="285.3" y="354.7" width="144" height="53.5" fill="#fdfdfd"/>
<rect x="312" y="376.3" width="91" height="1.4" fill="#000" opacity="0.12" filter="url(#b1)"/>
<rect x="293.5" y="361.3" width="17" height="14" fill="url(#g10)" filter="url(#bl2)"/>
<rect x="292" y="373.1" width="20" height="6.9" rx="2.93" fill="#000" filter="url(#b1)"/>
<rect x="321.2" y="355.7" width="17.3" height="19.3" fill="url(#g75)" filter="url(#bl2)"/>
<rect x="319.7" y="372.8" width="20.3" height="7.4" rx="3.15" fill="#000" filter="url(#b1)"/>
<rect x="348.7" y="361.5" width="16.8" height="14" fill="url(#g20)" filter="url(#bl2)"/>
<rect x="347.2" y="373.3" width="19.8" height="6.9" rx="2.93" fill="#000" filter="url(#b1)"/>
<rect x="375.6" y="374.8" width="18.2" height="4.6" rx="1.89" fill="#101010" filter="url(#b1)"/>
<rect x="403.3" y="375.1" width="18.5" height="4.3" rx="1.75" fill="#151515" filter="url(#b1)"/>
<rect x="285.3" y="354.7" width="144" height="53.5" fill="none" stroke="#1a1a1a" stroke-width="1.4"/>
<line x1="270.8" y1="366.5" x2="280.8" y2="366.5" stroke="#111" stroke-width="2"/>
<line x1="270.8" y1="396.5" x2="280.8" y2="396.5" stroke="#111" stroke-width="2"/>
<text x="302.2" y="350.9" font-size="13.2" text-anchor="start" fill="#1a1a1a" transform="rotate(-45 302.2 350.9)" style="stroke:#1a1a1a">W83</text>
<text x="330.7" y="350.9" font-size="13.2" text-anchor="start" fill="#1a1a1a" transform="rotate(-45 330.7 350.9)" style="stroke:#1a1a1a"><tspan font-style="normal">&#916;</tspan>rgpA<tspan font-style="normal">&#916;</tspan>rgpB</text>
<text x="361.2" y="350.9" font-size="13.2" text-anchor="start" fill="#1a1a1a" transform="rotate(-45 361.2 350.9)" style="stroke:#1a1a1a"><tspan font-style="normal">&#916;</tspan>kgp</text>
<text x="388.2" y="350.9" font-size="13.2" text-anchor="start" fill="#1a1a1a" transform="rotate(-45 388.2 350.9)" style="stroke:#1a1a1a"><tspan font-style="normal">&#916;</tspan>kgp<tspan font-style="normal">&#916;</tspan>rgpA</text>
<text x="419.5" y="350.9" font-size="13.2" text-anchor="start" fill="#1a1a1a" transform="rotate(-45 419.5 350.9)" style="stroke:#1a1a1a"><tspan font-style="normal">&#916;</tspan>kgp<tspan font-style="normal">&#916;</tspan>rgpA<tspan font-style="normal">&#916;</tspan>rgpB</text>
<line x1="289.9" y1="516.8" x2="431.5" y2="516.8" stroke="#eeeeee" stroke-width="0.8"/>
<line x1="289.9" y1="506.6" x2="431.5" y2="506.6" stroke="#eeeeee" stroke-width="0.8"/>
<line x1="289.9" y1="496.4" x2="431.5" y2="496.4" stroke="#eeeeee" stroke-width="0.8"/>
<line x1="289.9" y1="476" x2="431.5" y2="476" stroke="#eeeeee" stroke-width="0.8"/>
<line x1="289.9" y1="465.8" x2="431.5" y2="465.8" stroke="#eeeeee" stroke-width="0.8"/>
<line x1="289.9" y1="455.6" x2="431.5" y2="455.6" stroke="#eeeeee" stroke-width="0.8"/>
<line x1="289.9" y1="445.4" x2="431.5" y2="445.4" stroke="#eeeeee" stroke-width="0.8"/>
<line x1="289.9" y1="435.2" x2="431.5" y2="435.2" stroke="#eeeeee" stroke-width="0.8"/>
<line x1="289.9" y1="425" x2="431.5" y2="425" stroke="#eeeeee" stroke-width="0.8"/>
<rect x="297.3" y="486.2" width="18.4" height="40.8" fill="#d4d4d4" stroke="#8c8c8c" stroke-width="0.9"/>
<rect x="324.05" y="476" width="18.4" height="51" fill="#d4d4d4" stroke="#8c8c8c" stroke-width="0.9"/>
<rect x="350.8" y="482.12" width="18.4" height="44.88" fill="#d4d4d4" stroke="#8c8c8c" stroke-width="0.9"/>
<rect x="377.55" y="510.68" width="18.4" height="16.32" fill="#d4d4d4" stroke="#8c8c8c" stroke-width="0.9"/>
<rect x="404.3" y="509.86" width="18.4" height="17.14" fill="#d4d4d4" stroke="#8c8c8c" stroke-width="0.9"/>
<line x1="288.9" y1="486.2" x2="431.5" y2="486.2" stroke="#555" stroke-width="0.9" stroke-dasharray="1.4 1.6"/>
<line x1="333.25" y1="460.5" x2="333.25" y2="491.5" stroke="#333" stroke-width="1.3"/>
<line x1="330" y1="460.5" x2="336.5" y2="460.5" stroke="#333" stroke-width="1.3"/>
<line x1="330" y1="491.5" x2="336.5" y2="491.5" stroke="#333" stroke-width="1.3"/>
<line x1="360" y1="469.06" x2="360" y2="496.4" stroke="#333" stroke-width="1.3"/>
<line x1="356.75" y1="469.06" x2="363.25" y2="469.06" stroke="#333" stroke-width="1.3"/>
<line x1="356.75" y1="496.4" x2="363.25" y2="496.4" stroke="#333" stroke-width="1.3"/>
<line x1="386.75" y1="504.15" x2="386.75" y2="516.39" stroke="#333" stroke-width="1.3"/>
<line x1="383.5" y1="504.15" x2="390" y2="504.15" stroke="#333" stroke-width="1.3"/>
<line x1="383.5" y1="516.39" x2="390" y2="516.39" stroke="#333" stroke-width="1.3"/>
<line x1="413.5" y1="506.19" x2="413.5" y2="513.54" stroke="#333" stroke-width="1.3"/>
<line x1="410.25" y1="506.19" x2="416.75" y2="506.19" stroke="#333" stroke-width="1.3"/>
<line x1="410.25" y1="513.54" x2="416.75" y2="513.54" stroke="#333" stroke-width="1.3"/>
<line x1="288.9" y1="425" x2="288.9" y2="527.6" stroke="#444444" stroke-width="1.3"/>
<line x1="288.3" y1="527" x2="431.5" y2="527" stroke="#444444" stroke-width="1.3"/>
<line x1="282.9" y1="527" x2="288.9" y2="527" stroke="#444444" stroke-width="1.1"/>
<text x="280.9" y="531.3" font-size="12" text-anchor="end" fill="#1a1a1a" style="stroke:#1a1a1a">0.0</text>
<line x1="285.3" y1="516.8" x2="288.9" y2="516.8" stroke="#444444" stroke-width="1.1"/>
<line x1="282.9" y1="506.6" x2="288.9" y2="506.6" stroke="#444444" stroke-width="1.1"/>
<text x="280.9" y="510.9" font-size="12" text-anchor="end" fill="#1a1a1a" style="stroke:#1a1a1a">0.5</text>
<line x1="285.3" y1="496.4" x2="288.9" y2="496.4" stroke="#444444" stroke-width="1.1"/>
<line x1="282.9" y1="486.2" x2="288.9" y2="486.2" stroke="#444444" stroke-width="1.1"/>
<text x="280.9" y="490.5" font-size="12" text-anchor="end" fill="#1a1a1a" style="stroke:#1a1a1a">1.0</text>
<line x1="285.3" y1="476" x2="288.9" y2="476" stroke="#444444" stroke-width="1.1"/>
<line x1="282.9" y1="465.8" x2="288.9" y2="465.8" stroke="#444444" stroke-width="1.1"/>
<text x="280.9" y="470.1" font-size="12" text-anchor="end" fill="#1a1a1a" style="stroke:#1a1a1a">1.5</text>
<line x1="285.3" y1="455.6" x2="288.9" y2="455.6" stroke="#444444" stroke-width="1.1"/>
<line x1="282.9" y1="445.4" x2="288.9" y2="445.4" stroke="#444444" stroke-width="1.1"/>
<text x="280.9" y="449.7" font-size="12" text-anchor="end" fill="#1a1a1a" style="stroke:#1a1a1a">2.0</text>
<line x1="285.3" y1="435.2" x2="288.9" y2="435.2" stroke="#444444" stroke-width="1.1"/>
<line x1="282.9" y1="425" x2="288.9" y2="425" stroke="#444444" stroke-width="1.1"/>
<text x="280.9" y="429.3" font-size="12" text-anchor="end" fill="#1a1a1a" style="stroke:#1a1a1a">2.5</text>
<line x1="306.5" y1="527" x2="306.5" y2="533.5" stroke="#444444" stroke-width="1.2"/>
<line x1="333.25" y1="527" x2="333.25" y2="533.5" stroke="#444444" stroke-width="1.2"/>
<line x1="360" y1="527" x2="360" y2="533.5" stroke="#444444" stroke-width="1.2"/>
<line x1="386.75" y1="527" x2="386.75" y2="533.5" stroke="#444444" stroke-width="1.2"/>
<line x1="413.5" y1="527" x2="413.5" y2="533.5" stroke="#444444" stroke-width="1.2"/>
<text x="386.75" y="502.76" font-size="17" text-anchor="middle" font-weight="bold" fill="#222" style="stroke:#222">*</text>
<text x="310" y="544" font-size="11.8" text-anchor="end" fill="#1a1a1a" transform="rotate(-45 310 544)" style="stroke:#1a1a1a">W83</text>
<text x="336.75" y="544" font-size="11.8" text-anchor="end" fill="#1a1a1a" transform="rotate(-45 336.75 544)" style="stroke:#1a1a1a"><tspan font-style="normal">&#916;</tspan>rgpA<tspan font-style="normal">&#916;</tspan>rgpB</text>
<text x="363.5" y="544" font-size="11.8" text-anchor="end" fill="#1a1a1a" transform="rotate(-45 363.5 544)" style="stroke:#1a1a1a"><tspan font-style="normal">&#916;</tspan>kgp</text>
<text x="390.25" y="544" font-size="11.8" text-anchor="end" fill="#1a1a1a" transform="rotate(-45 390.25 544)" style="stroke:#1a1a1a"><tspan font-style="normal">&#916;</tspan>kgp<tspan font-style="normal">&#916;</tspan>rgpA</text>
<text x="417" y="544" font-size="11.8" text-anchor="end" fill="#1a1a1a" transform="rotate(-45 417 544)" style="stroke:#1a1a1a"><tspan font-style="normal">&#916;</tspan>kgp<tspan font-style="normal">&#916;</tspan>rgpA<tspan font-style="normal">&#916;</tspan>rgpB</text>
<text x="589.5" y="276" font-size="14" text-anchor="start" font-weight="bold" fill="#111" style="stroke:#111">FBS</text>
<rect x="498.9" y="354.8" width="143.7" height="52.5" fill="#fdfdfd"/>
<rect x="552" y="378.5" width="8" height="1.5" fill="#000" opacity="0.25" filter="url(#b1)"/>
<rect x="502.7" y="374.5" width="19.9" height="6.7" rx="2.84" fill="#000" filter="url(#b1)"/>
<rect x="531.4" y="358.5" width="19.1" height="18" fill="url(#g45)" filter="url(#bl2)"/>
<rect x="529.9" y="374.3" width="22.1" height="8.5" rx="3.65" fill="#000" filter="url(#b1)"/>
<rect x="560.5" y="367.7" width="16.8" height="10" fill="url(#g10)" filter="url(#bl2)"/>
<rect x="559" y="375.5" width="19.8" height="7.3" rx="3.11" fill="#000" filter="url(#b1)"/>
<rect x="589" y="379.1" width="16.7" height="3.5" rx="1.39" fill="#262626" filter="url(#b1)"/>
<rect x="615.8" y="379.3" width="19.9" height="5.5" rx="2.3" fill="#050505" filter="url(#b1)"/>
<rect x="498.9" y="354.8" width="143.7" height="52.5" fill="none" stroke="#1a1a1a" stroke-width="1.4"/>
<line x1="484.4" y1="366.6" x2="494.4" y2="366.6" stroke="#111" stroke-width="2"/>
<line x1="484.4" y1="396.6" x2="494.4" y2="396.6" stroke="#111" stroke-width="2"/>
<text x="652.5" y="382" font-size="12.4" text-anchor="start" font-weight="bold" fill="#111" style="stroke:#111">&#945;-HmuY</text>
<text x="514.3" y="351" font-size="13.2" text-anchor="start" fill="#1a1a1a" transform="rotate(-45 514.3 351)" style="stroke:#1a1a1a">W83</text>
<text x="541.8" y="351" font-size="13.2" text-anchor="start" fill="#1a1a1a" transform="rotate(-45 541.8 351)" style="stroke:#1a1a1a"><tspan font-style="normal">&#916;</tspan>rgpA<tspan font-style="normal">&#916;</tspan>rgpB</text>
<text x="572.3" y="351" font-size="13.2" text-anchor="start" fill="#1a1a1a" transform="rotate(-45 572.3 351)" style="stroke:#1a1a1a"><tspan font-style="normal">&#916;</tspan>kgp</text>
<text x="599.3" y="351" font-size="13.2" text-anchor="start" fill="#1a1a1a" transform="rotate(-45 599.3 351)" style="stroke:#1a1a1a"><tspan font-style="normal">&#916;</tspan>kgp<tspan font-style="normal">&#916;</tspan>rgpA</text>
<text x="630.6" y="351" font-size="13.2" text-anchor="start" fill="#1a1a1a" transform="rotate(-45 630.6 351)" style="stroke:#1a1a1a"><tspan font-style="normal">&#916;</tspan>kgp<tspan font-style="normal">&#916;</tspan>rgpA<tspan font-style="normal">&#916;</tspan>rgpB</text>
<line x1="503.4" y1="516.8" x2="645" y2="516.8" stroke="#eeeeee" stroke-width="0.8"/>
<line x1="503.4" y1="506.6" x2="645" y2="506.6" stroke="#eeeeee" stroke-width="0.8"/>
<line x1="503.4" y1="496.4" x2="645" y2="496.4" stroke="#eeeeee" stroke-width="0.8"/>
<line x1="503.4" y1="476" x2="645" y2="476" stroke="#eeeeee" stroke-width="0.8"/>
<line x1="503.4" y1="465.8" x2="645" y2="465.8" stroke="#eeeeee" stroke-width="0.8"/>
<line x1="503.4" y1="455.6" x2="645" y2="455.6" stroke="#eeeeee" stroke-width="0.8"/>
<line x1="503.4" y1="445.4" x2="645" y2="445.4" stroke="#eeeeee" stroke-width="0.8"/>
<line x1="503.4" y1="435.2" x2="645" y2="435.2" stroke="#eeeeee" stroke-width="0.8"/>
<line x1="503.4" y1="425" x2="645" y2="425" stroke="#eeeeee" stroke-width="0.8"/>
<rect x="510.8" y="486.2" width="18.4" height="40.8" fill="#d4d4d4" stroke="#8c8c8c" stroke-width="0.9"/>
<rect x="537.55" y="479.67" width="18.4" height="47.33" fill="#d4d4d4" stroke="#8c8c8c" stroke-width="0.9"/>
<rect x="564.3" y="489.87" width="18.4" height="37.13" fill="#d4d4d4" stroke="#8c8c8c" stroke-width="0.9"/>
<rect x="591.05" y="506.6" width="18.4" height="20.4" fill="#d4d4d4" stroke="#8c8c8c" stroke-width="0.9"/>
<rect x="617.8" y="499.26" width="18.4" height="27.74" fill="#d4d4d4" stroke="#8c8c8c" stroke-width="0.9"/>
<line x1="502.4" y1="486.2" x2="645" y2="486.2" stroke="#555" stroke-width="0.9" stroke-dasharray="1.4 1.6"/>
<line x1="546.75" y1="473.14" x2="546.75" y2="486.2" stroke="#333" stroke-width="1.3"/>
<line x1="543.5" y1="473.14" x2="550" y2="473.14" stroke="#333" stroke-width="1.3"/>
<line x1="543.5" y1="486.2" x2="550" y2="486.2" stroke="#333" stroke-width="1.3"/>
<line x1="573.5" y1="481.3" x2="573.5" y2="498.85" stroke="#333" stroke-width="1.3"/>
<line x1="570.25" y1="481.3" x2="576.75" y2="481.3" stroke="#333" stroke-width="1.3"/>
<line x1="570.25" y1="498.85" x2="576.75" y2="498.85" stroke="#333" stroke-width="1.3"/>
<line x1="600.25" y1="498.85" x2="600.25" y2="515.17" stroke="#333" stroke-width="1.3"/>
<line x1="597" y1="498.85" x2="603.5" y2="498.85" stroke="#333" stroke-width="1.3"/>
<line x1="597" y1="515.17" x2="603.5" y2="515.17" stroke="#333" stroke-width="1.3"/>
<line x1="627" y1="489.46" x2="627" y2="508.64" stroke="#333" stroke-width="1.3"/>
<line x1="623.75" y1="489.46" x2="630.25" y2="489.46" stroke="#333" stroke-width="1.3"/>
<line x1="623.75" y1="508.64" x2="630.25" y2="508.64" stroke="#333" stroke-width="1.3"/>
<line x1="502.4" y1="425" x2="502.4" y2="527.6" stroke="#444444" stroke-width="1.3"/>
<line x1="501.8" y1="527" x2="645" y2="527" stroke="#444444" stroke-width="1.3"/>
<line x1="496.4" y1="527" x2="502.4" y2="527" stroke="#444444" stroke-width="1.1"/>
<text x="494.4" y="531.3" font-size="12" text-anchor="end" fill="#1a1a1a" style="stroke:#1a1a1a">0.0</text>
<line x1="498.8" y1="516.8" x2="502.4" y2="516.8" stroke="#444444" stroke-width="1.1"/>
<line x1="496.4" y1="506.6" x2="502.4" y2="506.6" stroke="#444444" stroke-width="1.1"/>
<text x="494.4" y="510.9" font-size="12" text-anchor="end" fill="#1a1a1a" style="stroke:#1a1a1a">0.5</text>
<line x1="498.8" y1="496.4" x2="502.4" y2="496.4" stroke="#444444" stroke-width="1.1"/>
<line x1="496.4" y1="486.2" x2="502.4" y2="486.2" stroke="#444444" stroke-width="1.1"/>
<text x="494.4" y="490.5" font-size="12" text-anchor="end" fill="#1a1a1a" style="stroke:#1a1a1a">1.0</text>
<line x1="498.8" y1="476" x2="502.4" y2="476" stroke="#444444" stroke-width="1.1"/>
<line x1="496.4" y1="465.8" x2="502.4" y2="465.8" stroke="#444444" stroke-width="1.1"/>
<text x="494.4" y="470.1" font-size="12" text-anchor="end" fill="#1a1a1a" style="stroke:#1a1a1a">1.5</text>
<line x1="498.8" y1="455.6" x2="502.4" y2="455.6" stroke="#444444" stroke-width="1.1"/>
<line x1="496.4" y1="445.4" x2="502.4" y2="445.4" stroke="#444444" stroke-width="1.1"/>
<text x="494.4" y="449.7" font-size="12" text-anchor="end" fill="#1a1a1a" style="stroke:#1a1a1a">2.0</text>
<line x1="498.8" y1="435.2" x2="502.4" y2="435.2" stroke="#444444" stroke-width="1.1"/>
<line x1="496.4" y1="425" x2="502.4" y2="425" stroke="#444444" stroke-width="1.1"/>
<text x="494.4" y="429.3" font-size="12" text-anchor="end" fill="#1a1a1a" style="stroke:#1a1a1a">2.5</text>
<line x1="520" y1="527" x2="520" y2="533.5" stroke="#444444" stroke-width="1.2"/>
<line x1="546.75" y1="527" x2="546.75" y2="533.5" stroke="#444444" stroke-width="1.2"/>
<line x1="573.5" y1="527" x2="573.5" y2="533.5" stroke="#444444" stroke-width="1.2"/>
<line x1="600.25" y1="527" x2="600.25" y2="533.5" stroke="#444444" stroke-width="1.2"/>
<line x1="627" y1="527" x2="627" y2="533.5" stroke="#444444" stroke-width="1.2"/>
<text x="600.25" y="498.84" font-size="17" text-anchor="middle" font-weight="bold" fill="#222" style="stroke:#222">*</text>
<text x="523.5" y="544" font-size="11.8" text-anchor="end" fill="#1a1a1a" transform="rotate(-45 523.5 544)" style="stroke:#1a1a1a">W83</text>
<text x="550.25" y="544" font-size="11.8" text-anchor="end" fill="#1a1a1a" transform="rotate(-45 550.25 544)" style="stroke:#1a1a1a"><tspan font-style="normal">&#916;</tspan>rgpA<tspan font-style="normal">&#916;</tspan>rgpB</text>
<text x="577" y="544" font-size="11.8" text-anchor="end" fill="#1a1a1a" transform="rotate(-45 577 544)" style="stroke:#1a1a1a"><tspan font-style="normal">&#916;</tspan>kgp</text>
<text x="603.75" y="544" font-size="11.8" text-anchor="end" fill="#1a1a1a" transform="rotate(-45 603.75 544)" style="stroke:#1a1a1a"><tspan font-style="normal">&#916;</tspan>kgp<tspan font-style="normal">&#916;</tspan>rgpA</text>
<text x="630.5" y="544" font-size="11.8" text-anchor="end" fill="#1a1a1a" transform="rotate(-45 630.5 544)" style="stroke:#1a1a1a"><tspan font-style="normal">&#916;</tspan>kgp<tspan font-style="normal">&#916;</tspan>rgpA<tspan font-style="normal">&#916;</tspan>rgpB</text>
<text x="169" y="644.2" font-size="14" text-anchor="start" font-weight="bold" fill="#111" style="stroke:#111">BM</text>
<rect x="79.5" y="723.2" width="147.3" height="53.4" fill="#fdfdfd"/>
<rect x="105" y="745.2" width="96" height="1.6" fill="#000" opacity="0.15" filter="url(#b1)"/>
<rect x="84" y="742" width="21" height="7.7" rx="3.28" fill="#000" filter="url(#b1)"/>
<rect x="113.9" y="725" width="19.3" height="18" fill="url(#g30)" filter="url(#bl2)"/>
<rect x="112.4" y="740.8" width="22.3" height="9.1" rx="3.92" fill="#000" filter="url(#b1)"/>
<rect x="143.3" y="733.4" width="18.9" height="10" fill="url(#g10)" filter="url(#bl2)"/>
<rect x="141.8" y="741.2" width="21.9" height="7.6" rx="3.24" fill="#000" filter="url(#b1)"/>
<rect x="171.6" y="742.6" width="19.4" height="5.4" rx="2.25" fill="#101010" filter="url(#b1)"/>
<rect x="201" y="742" width="20.3" height="5.6" rx="2.34" fill="#050505" filter="url(#b1)"/>
<rect x="79.5" y="723.2" width="147.3" height="53.4" fill="none" stroke="#1a1a1a" stroke-width="1.4"/>
<line x1="65" y1="736.2" x2="75" y2="736.2" stroke="#111" stroke-width="2"/>
<line x1="65" y1="766.2" x2="75" y2="766.2" stroke="#111" stroke-width="2"/>
<text x="40" y="716" font-size="14" text-anchor="start" fill="#1a1a1a" style="stroke:#1a1a1a">kDa</text>
<text x="40" y="743.6" font-size="14" text-anchor="start" fill="#1a1a1a" style="stroke:#1a1a1a">25</text>
<text x="40" y="774.8" font-size="14" text-anchor="start" fill="#1a1a1a" style="stroke:#1a1a1a">15</text>
<text x="98.4" y="716.4" font-size="13.2" text-anchor="start" fill="#1a1a1a" transform="rotate(-45 98.4 716.4)" style="stroke:#1a1a1a">W83</text>
<text x="125.4" y="716.4" font-size="13.2" text-anchor="start" fill="#1a1a1a" transform="rotate(-45 125.4 716.4)" style="stroke:#1a1a1a"><tspan font-style="normal">&#916;</tspan>rgpA<tspan font-style="normal">&#916;</tspan>rgpB</text>
<text x="155.9" y="716.4" font-size="13.2" text-anchor="start" fill="#1a1a1a" transform="rotate(-45 155.9 716.4)" style="stroke:#1a1a1a"><tspan font-style="normal">&#916;</tspan>kgp</text>
<text x="182.9" y="716.4" font-size="13.2" text-anchor="start" fill="#1a1a1a" transform="rotate(-45 182.9 716.4)" style="stroke:#1a1a1a"><tspan font-style="normal">&#916;</tspan>kgp<tspan font-style="normal">&#916;</tspan>rgpA</text>
<text x="214.2" y="716.4" font-size="13.2" text-anchor="start" fill="#1a1a1a" transform="rotate(-45 214.2 716.4)" style="stroke:#1a1a1a"><tspan font-style="normal">&#916;</tspan>kgp<tspan font-style="normal">&#916;</tspan>rgpA<tspan font-style="normal">&#916;</tspan>rgpB</text>
<line x1="81.8" y1="889.49" x2="223.4" y2="889.49" stroke="#eeeeee" stroke-width="0.8"/>
<line x1="81.8" y1="879.28" x2="223.4" y2="879.28" stroke="#eeeeee" stroke-width="0.8"/>
<line x1="81.8" y1="869.07" x2="223.4" y2="869.07" stroke="#eeeeee" stroke-width="0.8"/>
<line x1="81.8" y1="848.65" x2="223.4" y2="848.65" stroke="#eeeeee" stroke-width="0.8"/>
<line x1="81.8" y1="838.44" x2="223.4" y2="838.44" stroke="#eeeeee" stroke-width="0.8"/>
<line x1="81.8" y1="828.23" x2="223.4" y2="828.23" stroke="#eeeeee" stroke-width="0.8"/>
<line x1="81.8" y1="818.02" x2="223.4" y2="818.02" stroke="#eeeeee" stroke-width="0.8"/>
<line x1="81.8" y1="807.81" x2="223.4" y2="807.81" stroke="#eeeeee" stroke-width="0.8"/>
<line x1="81.8" y1="797.6" x2="223.4" y2="797.6" stroke="#eeeeee" stroke-width="0.8"/>
<rect x="89.2" y="858.86" width="18.4" height="40.84" fill="#d4d4d4" stroke="#8c8c8c" stroke-width="0.9"/>
<rect x="115.95" y="844.97" width="18.4" height="54.73" fill="#d4d4d4" stroke="#8c8c8c" stroke-width="0.9"/>
<rect x="142.7" y="858.04" width="18.4" height="41.66" fill="#d4d4d4" stroke="#8c8c8c" stroke-width="0.9"/>
<rect x="169.45" y="880.1" width="18.4" height="19.6" fill="#d4d4d4" stroke="#8c8c8c" stroke-width="0.9"/>
<rect x="196.2" y="867.03" width="18.4" height="32.67" fill="#d4d4d4" stroke="#8c8c8c" stroke-width="0.9"/>
<line x1="80.8" y1="858.86" x2="223.4" y2="858.86" stroke="#555" stroke-width="0.9" stroke-dasharray="1.4 1.6"/>
<line x1="125.15" y1="836.81" x2="125.15" y2="853.14" stroke="#333" stroke-width="1.3"/>
<line x1="121.9" y1="836.81" x2="128.4" y2="836.81" stroke="#333" stroke-width="1.3"/>
<line x1="121.9" y1="853.14" x2="128.4" y2="853.14" stroke="#333" stroke-width="1.3"/>
<line x1="151.9" y1="855.18" x2="151.9" y2="860.9" stroke="#333" stroke-width="1.3"/>
<line x1="148.65" y1="855.18" x2="155.15" y2="855.18" stroke="#333" stroke-width="1.3"/>
<line x1="148.65" y1="860.9" x2="155.15" y2="860.9" stroke="#333" stroke-width="1.3"/>
<line x1="178.65" y1="872.34" x2="178.65" y2="887.45" stroke="#333" stroke-width="1.3"/>
<line x1="175.4" y1="872.34" x2="181.9" y2="872.34" stroke="#333" stroke-width="1.3"/>
<line x1="175.4" y1="887.45" x2="181.9" y2="887.45" stroke="#333" stroke-width="1.3"/>
<line x1="205.4" y1="848.24" x2="205.4" y2="886.22" stroke="#333" stroke-width="1.3"/>
<line x1="202.15" y1="848.24" x2="208.65" y2="848.24" stroke="#333" stroke-width="1.3"/>
<line x1="202.15" y1="886.22" x2="208.65" y2="886.22" stroke="#333" stroke-width="1.3"/>
<line x1="80.8" y1="797.6" x2="80.8" y2="900.3" stroke="#444444" stroke-width="1.3"/>
<line x1="80.2" y1="899.7" x2="223.4" y2="899.7" stroke="#444444" stroke-width="1.3"/>
<line x1="74.8" y1="899.7" x2="80.8" y2="899.7" stroke="#444444" stroke-width="1.1"/>
<text x="72.8" y="904" font-size="12" text-anchor="end" fill="#1a1a1a" style="stroke:#1a1a1a">0.0</text>
<line x1="77.2" y1="889.49" x2="80.8" y2="889.49" stroke="#444444" stroke-width="1.1"/>
<line x1="74.8" y1="879.28" x2="80.8" y2="879.28" stroke="#444444" stroke-width="1.1"/>
<text x="72.8" y="883.58" font-size="12" text-anchor="end" fill="#1a1a1a" style="stroke:#1a1a1a">0.5</text>
<line x1="77.2" y1="869.07" x2="80.8" y2="869.07" stroke="#444444" stroke-width="1.1"/>
<line x1="74.8" y1="858.86" x2="80.8" y2="858.86" stroke="#444444" stroke-width="1.1"/>
<text x="72.8" y="863.16" font-size="12" text-anchor="end" fill="#1a1a1a" style="stroke:#1a1a1a">1.0</text>
<line x1="77.2" y1="848.65" x2="80.8" y2="848.65" stroke="#444444" stroke-width="1.1"/>
<line x1="74.8" y1="838.44" x2="80.8" y2="838.44" stroke="#444444" stroke-width="1.1"/>
<text x="72.8" y="842.74" font-size="12" text-anchor="end" fill="#1a1a1a" style="stroke:#1a1a1a">1.5</text>
<line x1="77.2" y1="828.23" x2="80.8" y2="828.23" stroke="#444444" stroke-width="1.1"/>
<line x1="74.8" y1="818.02" x2="80.8" y2="818.02" stroke="#444444" stroke-width="1.1"/>
<text x="72.8" y="822.32" font-size="12" text-anchor="end" fill="#1a1a1a" style="stroke:#1a1a1a">2.0</text>
<line x1="77.2" y1="807.81" x2="80.8" y2="807.81" stroke="#444444" stroke-width="1.1"/>
<line x1="74.8" y1="797.6" x2="80.8" y2="797.6" stroke="#444444" stroke-width="1.1"/>
<text x="72.8" y="801.9" font-size="12" text-anchor="end" fill="#1a1a1a" style="stroke:#1a1a1a">2.5</text>
<line x1="98.4" y1="899.7" x2="98.4" y2="906.2" stroke="#444444" stroke-width="1.2"/>
<line x1="125.15" y1="899.7" x2="125.15" y2="906.2" stroke="#444444" stroke-width="1.2"/>
<line x1="151.9" y1="899.7" x2="151.9" y2="906.2" stroke="#444444" stroke-width="1.2"/>
<line x1="178.65" y1="899.7" x2="178.65" y2="906.2" stroke="#444444" stroke-width="1.2"/>
<line x1="205.4" y1="899.7" x2="205.4" y2="906.2" stroke="#444444" stroke-width="1.2"/>
<text x="178.65" y="874.61" font-size="17" text-anchor="middle" font-weight="bold" fill="#222" style="stroke:#222">*</text>
<text x="48.5" y="848.65" font-size="12.3" text-anchor="middle" fill="#1a1a1a" transform="rotate(-90 48.5 848.65)">Relative HmuY amount</text>
<text x="101.9" y="916.7" font-size="11.8" text-anchor="end" fill="#1a1a1a" transform="rotate(-45 101.9 916.7)" style="stroke:#1a1a1a">W83</text>
<text x="128.65" y="916.7" font-size="11.8" text-anchor="end" fill="#1a1a1a" transform="rotate(-45 128.65 916.7)" style="stroke:#1a1a1a"><tspan font-style="normal">&#916;</tspan>rgpA<tspan font-style="normal">&#916;</tspan>rgpB</text>
<text x="155.4" y="916.7" font-size="11.8" text-anchor="end" fill="#1a1a1a" transform="rotate(-45 155.4 916.7)" style="stroke:#1a1a1a"><tspan font-style="normal">&#916;</tspan>kgp</text>
<text x="182.15" y="916.7" font-size="11.8" text-anchor="end" fill="#1a1a1a" transform="rotate(-45 182.15 916.7)" style="stroke:#1a1a1a"><tspan font-style="normal">&#916;</tspan>kgp<tspan font-style="normal">&#916;</tspan>rgpA</text>
<text x="208.9" y="916.7" font-size="11.8" text-anchor="end" fill="#1a1a1a" transform="rotate(-45 208.9 916.7)" style="stroke:#1a1a1a"><tspan font-style="normal">&#916;</tspan>kgp<tspan font-style="normal">&#916;</tspan>rgpA<tspan font-style="normal">&#916;</tspan>rgpB</text>
<text x="376.8" y="642.8" font-size="14" text-anchor="start" font-weight="bold" fill="#111" style="stroke:#111">DIP</text>
<rect x="286.5" y="723.5" width="148.1" height="52.8" fill="#fdfdfd"/>
<rect x="290.1" y="724.5" width="23.9" height="20.7" fill="url(#g30)" filter="url(#bl2)"/>
<rect x="288.6" y="743" width="26.9" height="6.4" rx="2.7" fill="#0a0a0a" filter="url(#b1)"/>
<rect x="319" y="724.5" width="23" height="20.5" fill="url(#g30)" filter="url(#bl2)"/>
<rect x="317.5" y="742.8" width="26" height="6.4" rx="2.7" fill="#0a0a0a" filter="url(#b1)"/>
<rect x="347.5" y="724.5" width="24.5" height="20.3" fill="url(#g30)" filter="url(#bl2)"/>
<rect x="346" y="742.6" width="27.5" height="6.8" rx="2.88" fill="#050505" filter="url(#b1)"/>
<rect x="377" y="724.5" width="24.5" height="20.1" fill="url(#g30)" filter="url(#bl2)"/>
<rect x="375.5" y="742.4" width="27.5" height="7.2" rx="3.06" fill="#000" filter="url(#b1)"/>
<rect x="406" y="724.5" width="26" height="20.5" fill="url(#g30)" filter="url(#bl2)"/>
<rect x="404.5" y="742.8" width="29" height="6.6" rx="2.79" fill="#050505" filter="url(#b1)"/>
<rect x="286.5" y="723.5" width="148.1" height="52.8" fill="none" stroke="#1a1a1a" stroke-width="1.4"/>
<line x1="272" y1="736.5" x2="282" y2="736.5" stroke="#111" stroke-width="2"/>
<line x1="272" y1="766.5" x2="282" y2="766.5" stroke="#111" stroke-width="2"/>
<text x="304.9" y="719.7" font-size="13.2" text-anchor="start" fill="#1a1a1a" transform="rotate(-45 304.9 719.7)" style="stroke:#1a1a1a">W83</text>
<text x="333.9" y="719.7" font-size="13.2" text-anchor="start" fill="#1a1a1a" transform="rotate(-45 333.9 719.7)" style="stroke:#1a1a1a"><tspan font-style="normal">&#916;</tspan>rgpA<tspan font-style="normal">&#916;</tspan>rgpB</text>
<text x="364.4" y="719.7" font-size="13.2" text-anchor="start" fill="#1a1a1a" transform="rotate(-45 364.4 719.7)" style="stroke:#1a1a1a"><tspan font-style="normal">&#916;</tspan>kgp</text>
<text x="391.4" y="719.7" font-size="13.2" text-anchor="start" fill="#1a1a1a" transform="rotate(-45 391.4 719.7)" style="stroke:#1a1a1a"><tspan font-style="normal">&#916;</tspan>kgp<tspan font-style="normal">&#916;</tspan>rgpA</text>
<text x="422.7" y="719.7" font-size="13.2" text-anchor="start" fill="#1a1a1a" transform="rotate(-45 422.7 719.7)" style="stroke:#1a1a1a"><tspan font-style="normal">&#916;</tspan>kgp<tspan font-style="normal">&#916;</tspan>rgpA<tspan font-style="normal">&#916;</tspan>rgpB</text>
<line x1="289.9" y1="889.49" x2="431.5" y2="889.49" stroke="#eeeeee" stroke-width="0.8"/>
<line x1="289.9" y1="879.28" x2="431.5" y2="879.28" stroke="#eeeeee" stroke-width="0.8"/>
<line x1="289.9" y1="869.07" x2="431.5" y2="869.07" stroke="#eeeeee" stroke-width="0.8"/>
<line x1="289.9" y1="848.65" x2="431.5" y2="848.65" stroke="#eeeeee" stroke-width="0.8"/>
<line x1="289.9" y1="838.44" x2="431.5" y2="838.44" stroke="#eeeeee" stroke-width="0.8"/>
<line x1="289.9" y1="828.23" x2="431.5" y2="828.23" stroke="#eeeeee" stroke-width="0.8"/>
<line x1="289.9" y1="818.02" x2="431.5" y2="818.02" stroke="#eeeeee" stroke-width="0.8"/>
<line x1="289.9" y1="807.81" x2="431.5" y2="807.81" stroke="#eeeeee" stroke-width="0.8"/>
<line x1="289.9" y1="797.6" x2="431.5" y2="797.6" stroke="#eeeeee" stroke-width="0.8"/>
<rect x="297.3" y="858.86" width="18.4" height="40.84" fill="#d4d4d4" stroke="#8c8c8c" stroke-width="0.9"/>
<rect x="324.05" y="858.86" width="18.4" height="40.84" fill="#d4d4d4" stroke="#8c8c8c" stroke-width="0.9"/>
<rect x="350.8" y="858.86" width="18.4" height="40.84" fill="#d4d4d4" stroke="#8c8c8c" stroke-width="0.9"/>
<rect x="377.55" y="860.9" width="18.4" height="38.8" fill="#d4d4d4" stroke="#8c8c8c" stroke-width="0.9"/>
<rect x="404.3" y="859.68" width="18.4" height="40.02" fill="#d4d4d4" stroke="#8c8c8c" stroke-width="0.9"/>
<line x1="288.9" y1="858.86" x2="431.5" y2="858.86" stroke="#555" stroke-width="0.9" stroke-dasharray="1.4 1.6"/>
<line x1="333.25" y1="851.92" x2="333.25" y2="864.99" stroke="#333" stroke-width="1.3"/>
<line x1="330" y1="851.92" x2="336.5" y2="851.92" stroke="#333" stroke-width="1.3"/>
<line x1="330" y1="864.99" x2="336.5" y2="864.99" stroke="#333" stroke-width="1.3"/>
<line x1="360" y1="851.51" x2="360" y2="866.21" stroke="#333" stroke-width="1.3"/>
<line x1="356.75" y1="851.51" x2="363.25" y2="851.51" stroke="#333" stroke-width="1.3"/>
<line x1="356.75" y1="866.21" x2="363.25" y2="866.21" stroke="#333" stroke-width="1.3"/>
<line x1="386.75" y1="853.55" x2="386.75" y2="869.07" stroke="#333" stroke-width="1.3"/>
<line x1="383.5" y1="853.55" x2="390" y2="853.55" stroke="#333" stroke-width="1.3"/>
<line x1="383.5" y1="869.07" x2="390" y2="869.07" stroke="#333" stroke-width="1.3"/>
<line x1="413.5" y1="853.96" x2="413.5" y2="865.39" stroke="#333" stroke-width="1.3"/>
<line x1="410.25" y1="853.96" x2="416.75" y2="853.96" stroke="#333" stroke-width="1.3"/>
<line x1="410.25" y1="865.39" x2="416.75" y2="865.39" stroke="#333" stroke-width="1.3"/>
<line x1="288.9" y1="797.6" x2="288.9" y2="900.3" stroke="#444444" stroke-width="1.3"/>
<line x1="288.3" y1="899.7" x2="431.5" y2="899.7" stroke="#444444" stroke-width="1.3"/>
<line x1="282.9" y1="899.7" x2="288.9" y2="899.7" stroke="#444444" stroke-width="1.1"/>
<text x="280.9" y="904" font-size="12" text-anchor="end" fill="#1a1a1a" style="stroke:#1a1a1a">0.0</text>
<line x1="285.3" y1="889.49" x2="288.9" y2="889.49" stroke="#444444" stroke-width="1.1"/>
<line x1="282.9" y1="879.28" x2="288.9" y2="879.28" stroke="#444444" stroke-width="1.1"/>
<text x="280.9" y="883.58" font-size="12" text-anchor="end" fill="#1a1a1a" style="stroke:#1a1a1a">0.5</text>
<line x1="285.3" y1="869.07" x2="288.9" y2="869.07" stroke="#444444" stroke-width="1.1"/>
<line x1="282.9" y1="858.86" x2="288.9" y2="858.86" stroke="#444444" stroke-width="1.1"/>
<text x="280.9" y="863.16" font-size="12" text-anchor="end" fill="#1a1a1a" style="stroke:#1a1a1a">1.0</text>
<line x1="285.3" y1="848.65" x2="288.9" y2="848.65" stroke="#444444" stroke-width="1.1"/>
<line x1="282.9" y1="838.44" x2="288.9" y2="838.44" stroke="#444444" stroke-width="1.1"/>
<text x="280.9" y="842.74" font-size="12" text-anchor="end" fill="#1a1a1a" style="stroke:#1a1a1a">1.5</text>
<line x1="285.3" y1="828.23" x2="288.9" y2="828.23" stroke="#444444" stroke-width="1.1"/>
<line x1="282.9" y1="818.02" x2="288.9" y2="818.02" stroke="#444444" stroke-width="1.1"/>
<text x="280.9" y="822.32" font-size="12" text-anchor="end" fill="#1a1a1a" style="stroke:#1a1a1a">2.0</text>
<line x1="285.3" y1="807.81" x2="288.9" y2="807.81" stroke="#444444" stroke-width="1.1"/>
<line x1="282.9" y1="797.6" x2="288.9" y2="797.6" stroke="#444444" stroke-width="1.1"/>
<text x="280.9" y="801.9" font-size="12" text-anchor="end" fill="#1a1a1a" style="stroke:#1a1a1a">2.5</text>
<line x1="306.5" y1="899.7" x2="306.5" y2="906.2" stroke="#444444" stroke-width="1.2"/>
<line x1="333.25" y1="899.7" x2="333.25" y2="906.2" stroke="#444444" stroke-width="1.2"/>
<line x1="360" y1="899.7" x2="360" y2="906.2" stroke="#444444" stroke-width="1.2"/>
<line x1="386.75" y1="899.7" x2="386.75" y2="906.2" stroke="#444444" stroke-width="1.2"/>
<line x1="413.5" y1="899.7" x2="413.5" y2="906.2" stroke="#444444" stroke-width="1.2"/>
<text x="310" y="916.7" font-size="11.8" text-anchor="end" fill="#1a1a1a" transform="rotate(-45 310 916.7)" style="stroke:#1a1a1a">W83</text>
<text x="336.75" y="916.7" font-size="11.8" text-anchor="end" fill="#1a1a1a" transform="rotate(-45 336.75 916.7)" style="stroke:#1a1a1a"><tspan font-style="normal">&#916;</tspan>rgpA<tspan font-style="normal">&#916;</tspan>rgpB</text>
<text x="363.5" y="916.7" font-size="11.8" text-anchor="end" fill="#1a1a1a" transform="rotate(-45 363.5 916.7)" style="stroke:#1a1a1a"><tspan font-style="normal">&#916;</tspan>kgp</text>
<text x="390.25" y="916.7" font-size="11.8" text-anchor="end" fill="#1a1a1a" transform="rotate(-45 390.25 916.7)" style="stroke:#1a1a1a"><tspan font-style="normal">&#916;</tspan>kgp<tspan font-style="normal">&#916;</tspan>rgpA</text>
<text x="417" y="916.7" font-size="11.8" text-anchor="end" fill="#1a1a1a" transform="rotate(-45 417 916.7)" style="stroke:#1a1a1a"><tspan font-style="normal">&#916;</tspan>kgp<tspan font-style="normal">&#916;</tspan>rgpA<tspan font-style="normal">&#916;</tspan>rgpB</text>
<text x="548.4" y="640.4" font-size="14" text-anchor="start" font-weight="bold" fill="#111" style="stroke:#111">ABA</text>
<rect x="499.9" y="723.3" width="147.5" height="53.6" fill="#fdfdfd"/>
<rect x="505.5" y="741.6" width="18.2" height="7.3" rx="3.11" fill="#000" filter="url(#b1)"/>
<rect x="536" y="731.8" width="16.2" height="10" fill="url(#g15)" filter="url(#bl2)"/>
<rect x="534.5" y="739.6" width="19.2" height="8.9" rx="3.83" fill="#000" filter="url(#b1)"/>
<rect x="565" y="732.8" width="15.4" height="10" fill="url(#g10)" filter="url(#bl2)"/>
<rect x="563.5" y="740.6" width="18.4" height="6.9" rx="2.93" fill="#000" filter="url(#b1)"/>
<rect x="593.7" y="742.6" width="14.8" height="3.3" rx="1.31" fill="#b8b8b8" filter="url(#b1)"/>
<rect x="621.4" y="739.6" width="17.7" height="6.7" rx="2.84" fill="#000" filter="url(#b1)"/>
<rect x="499.9" y="723.3" width="147.5" height="53.6" fill="none" stroke="#1a1a1a" stroke-width="1.4"/>
<line x1="485.4" y1="736.3" x2="495.4" y2="736.3" stroke="#111" stroke-width="2"/>
<line x1="485.4" y1="766.3" x2="495.4" y2="766.3" stroke="#111" stroke-width="2"/>
<text x="653.7" y="755.2" font-size="12.4" text-anchor="start" font-weight="bold" fill="#111" style="stroke:#111">&#945;-HmuY</text>
<text x="519.8" y="719.5" font-size="13.2" text-anchor="start" fill="#1a1a1a" transform="rotate(-45 519.8 719.5)" style="stroke:#1a1a1a">W83</text>
<text x="547.8" y="719.5" font-size="13.2" text-anchor="start" fill="#1a1a1a" transform="rotate(-45 547.8 719.5)" style="stroke:#1a1a1a"><tspan font-style="normal">&#916;</tspan>rgpA<tspan font-style="normal">&#916;</tspan>rgpB</text>
<text x="578.3" y="719.5" font-size="13.2" text-anchor="start" fill="#1a1a1a" transform="rotate(-45 578.3 719.5)" style="stroke:#1a1a1a"><tspan font-style="normal">&#916;</tspan>kgp</text>
<text x="605.3" y="719.5" font-size="13.2" text-anchor="start" fill="#1a1a1a" transform="rotate(-45 605.3 719.5)" style="stroke:#1a1a1a"><tspan font-style="normal">&#916;</tspan>kgp<tspan font-style="normal">&#916;</tspan>rgpA</text>
<text x="636.6" y="719.5" font-size="13.2" text-anchor="start" fill="#1a1a1a" transform="rotate(-45 636.6 719.5)" style="stroke:#1a1a1a"><tspan font-style="normal">&#916;</tspan>kgp<tspan font-style="normal">&#916;</tspan>rgpA<tspan font-style="normal">&#916;</tspan>rgpB</text>
<line x1="503.4" y1="889.49" x2="645" y2="889.49" stroke="#eeeeee" stroke-width="0.8"/>
<line x1="503.4" y1="879.28" x2="645" y2="879.28" stroke="#eeeeee" stroke-width="0.8"/>
<line x1="503.4" y1="869.07" x2="645" y2="869.07" stroke="#eeeeee" stroke-width="0.8"/>
<line x1="503.4" y1="848.65" x2="645" y2="848.65" stroke="#eeeeee" stroke-width="0.8"/>
<line x1="503.4" y1="838.44" x2="645" y2="838.44" stroke="#eeeeee" stroke-width="0.8"/>
<line x1="503.4" y1="828.23" x2="645" y2="828.23" stroke="#eeeeee" stroke-width="0.8"/>
<line x1="503.4" y1="818.02" x2="645" y2="818.02" stroke="#eeeeee" stroke-width="0.8"/>
<line x1="503.4" y1="807.81" x2="645" y2="807.81" stroke="#eeeeee" stroke-width="0.8"/>
<line x1="503.4" y1="797.6" x2="645" y2="797.6" stroke="#eeeeee" stroke-width="0.8"/>
<rect x="510.8" y="858.86" width="18.4" height="40.84" fill="#d4d4d4" stroke="#8c8c8c" stroke-width="0.9"/>
<rect x="537.55" y="837.21" width="18.4" height="62.49" fill="#d4d4d4" stroke="#8c8c8c" stroke-width="0.9"/>
<rect x="564.3" y="871.11" width="18.4" height="28.59" fill="#d4d4d4" stroke="#8c8c8c" stroke-width="0.9"/>
<rect x="591.05" y="897.25" width="18.4" height="2.45" fill="#d4d4d4" stroke="#8c8c8c" stroke-width="0.9"/>
<rect x="617.8" y="880.1" width="18.4" height="19.6" fill="#d4d4d4" stroke="#8c8c8c" stroke-width="0.9"/>
<line x1="502.4" y1="858.86" x2="645" y2="858.86" stroke="#555" stroke-width="0.9" stroke-dasharray="1.4 1.6"/>
<line x1="546.75" y1="816.39" x2="546.75" y2="858.45" stroke="#333" stroke-width="1.3"/>
<line x1="543.5" y1="816.39" x2="550" y2="816.39" stroke="#333" stroke-width="1.3"/>
<line x1="543.5" y1="858.45" x2="550" y2="858.45" stroke="#333" stroke-width="1.3"/>
<line x1="573.5" y1="862.13" x2="573.5" y2="879.69" stroke="#333" stroke-width="1.3"/>
<line x1="570.25" y1="862.13" x2="576.75" y2="862.13" stroke="#333" stroke-width="1.3"/>
<line x1="570.25" y1="879.69" x2="576.75" y2="879.69" stroke="#333" stroke-width="1.3"/>
<line x1="600.25" y1="895.62" x2="600.25" y2="898.88" stroke="#333" stroke-width="1.3"/>
<line x1="597" y1="895.62" x2="603.5" y2="895.62" stroke="#333" stroke-width="1.3"/>
<line x1="597" y1="898.88" x2="603.5" y2="898.88" stroke="#333" stroke-width="1.3"/>
<line x1="627" y1="867.03" x2="627" y2="894.39" stroke="#333" stroke-width="1.3"/>
<line x1="623.75" y1="867.03" x2="630.25" y2="867.03" stroke="#333" stroke-width="1.3"/>
<line x1="623.75" y1="894.39" x2="630.25" y2="894.39" stroke="#333" stroke-width="1.3"/>
<line x1="502.4" y1="797.6" x2="502.4" y2="900.3" stroke="#444444" stroke-width="1.3"/>
<line x1="501.8" y1="899.7" x2="645" y2="899.7" stroke="#444444" stroke-width="1.3"/>
<line x1="496.4" y1="899.7" x2="502.4" y2="899.7" stroke="#444444" stroke-width="1.1"/>
<text x="494.4" y="904" font-size="12" text-anchor="end" fill="#1a1a1a" style="stroke:#1a1a1a">0.0</text>
<line x1="498.8" y1="889.49" x2="502.4" y2="889.49" stroke="#444444" stroke-width="1.1"/>
<line x1="496.4" y1="879.28" x2="502.4" y2="879.28" stroke="#444444" stroke-width="1.1"/>
<text x="494.4" y="883.58" font-size="12" text-anchor="end" fill="#1a1a1a" style="stroke:#1a1a1a">0.5</text>
<line x1="498.8" y1="869.07" x2="502.4" y2="869.07" stroke="#444444" stroke-width="1.1"/>
<line x1="496.4" y1="858.86" x2="502.4" y2="858.86" stroke="#444444" stroke-width="1.1"/>
<text x="494.4" y="863.16" font-size="12" text-anchor="end" fill="#1a1a1a" style="stroke:#1a1a1a">1.0</text>
<line x1="498.8" y1="848.65" x2="502.4" y2="848.65" stroke="#444444" stroke-width="1.1"/>
<line x1="496.4" y1="838.44" x2="502.4" y2="838.44" stroke="#444444" stroke-width="1.1"/>
<text x="494.4" y="842.74" font-size="12" text-anchor="end" fill="#1a1a1a" style="stroke:#1a1a1a">1.5</text>
<line x1="498.8" y1="828.23" x2="502.4" y2="828.23" stroke="#444444" stroke-width="1.1"/>
<line x1="496.4" y1="818.02" x2="502.4" y2="818.02" stroke="#444444" stroke-width="1.1"/>
<text x="494.4" y="822.32" font-size="12" text-anchor="end" fill="#1a1a1a" style="stroke:#1a1a1a">2.0</text>
<line x1="498.8" y1="807.81" x2="502.4" y2="807.81" stroke="#444444" stroke-width="1.1"/>
<line x1="496.4" y1="797.6" x2="502.4" y2="797.6" stroke="#444444" stroke-width="1.1"/>
<text x="494.4" y="801.9" font-size="12" text-anchor="end" fill="#1a1a1a" style="stroke:#1a1a1a">2.5</text>
<line x1="520" y1="899.7" x2="520" y2="906.2" stroke="#444444" stroke-width="1.2"/>
<line x1="546.75" y1="899.7" x2="546.75" y2="906.2" stroke="#444444" stroke-width="1.2"/>
<line x1="573.5" y1="899.7" x2="573.5" y2="906.2" stroke="#444444" stroke-width="1.2"/>
<line x1="600.25" y1="899.7" x2="600.25" y2="906.2" stroke="#444444" stroke-width="1.2"/>
<line x1="627" y1="899.7" x2="627" y2="906.2" stroke="#444444" stroke-width="1.2"/>
<text x="600.25" y="892.99" font-size="17" text-anchor="middle" font-weight="bold" fill="#222" style="stroke:#222">***</text>
<text x="523.5" y="916.7" font-size="11.8" text-anchor="end" fill="#1a1a1a" transform="rotate(-45 523.5 916.7)" style="stroke:#1a1a1a">W83</text>
<text x="550.25" y="916.7" font-size="11.8" text-anchor="end" fill="#1a1a1a" transform="rotate(-45 550.25 916.7)" style="stroke:#1a1a1a"><tspan font-style="normal">&#916;</tspan>rgpA<tspan font-style="normal">&#916;</tspan>rgpB</text>
<text x="577" y="916.7" font-size="11.8" text-anchor="end" fill="#1a1a1a" transform="rotate(-45 577 916.7)" style="stroke:#1a1a1a"><tspan font-style="normal">&#916;</tspan>kgp</text>
<text x="603.75" y="916.7" font-size="11.8" text-anchor="end" fill="#1a1a1a" transform="rotate(-45 603.75 916.7)" style="stroke:#1a1a1a"><tspan font-style="normal">&#916;</tspan>kgp<tspan font-style="normal">&#916;</tspan>rgpA</text>
<text x="630.5" y="916.7" font-size="11.8" text-anchor="end" fill="#1a1a1a" transform="rotate(-45 630.5 916.7)" style="stroke:#1a1a1a"><tspan font-style="normal">&#916;</tspan>kgp<tspan font-style="normal">&#916;</tspan>rgpA<tspan font-style="normal">&#916;</tspan>rgpB</text>
</svg>
</body></html>
